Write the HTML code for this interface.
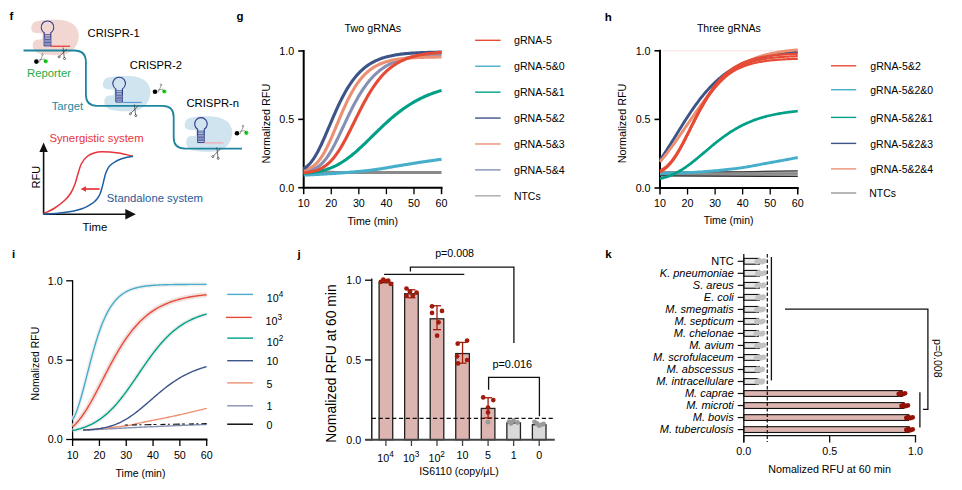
<!DOCTYPE html>
<html><head><meta charset="utf-8"><style>
html,body{margin:0;padding:0;background:#fff;}
svg{display:block;}
text{font-family:'Liberation Sans', Arial, sans-serif;}
</style></head><body>
<svg width="962" height="490" viewBox="0 0 962 490">
<rect width="962" height="490" fill="#fff"/>
<text x="9.60" y="19.60" font-size="11.5" fill="#000" font-weight="bold">f</text>
<path transform="translate(47.50,21.00)" d="M-6.4,12.3 C-9,12.1 -14,12.6 -15.6,10 C-17,7.5 -16,2.5 -12.5,0.8 C-8,-1 3,-1.5 11,-1.2 C24,-0.8 31.3,6 31.3,14.5 C31.3,25 24,33.8 11,34.1 C2,34.3 -7,33.5 -10.5,31.5 C-14.5,29.5 -15.2,25.5 -14.6,22.5 C-14,19.5 -12,18.5 -9.5,18.4 L-6.4,18.4 C-4.4,18.4 -4.4,12.3 -6.4,12.3 Z" fill="#f2d6d1"/>
<path transform="translate(119.15,77.20)" d="M-6.4,12.3 C-9,12.1 -14,12.6 -15.6,10 C-17,7.5 -16,2.5 -12.5,0.8 C-8,-1 3,-1.5 11,-1.2 C24,-0.8 31.3,6 31.3,14.5 C31.3,25 24,33.8 11,34.1 C2,34.3 -7,33.5 -10.5,31.5 C-14.5,29.5 -15.2,25.5 -14.6,22.5 C-14,19.5 -12,18.5 -9.5,18.4 L-6.4,18.4 C-4.4,18.4 -4.4,12.3 -6.4,12.3 Z" fill="#cfe4ee"/>
<path transform="translate(200.95,117.65)" d="M-6.4,12.3 C-9,12.1 -14,12.6 -15.6,10 C-17,7.5 -16,2.5 -12.5,0.8 C-8,-1 3,-1.5 11,-1.2 C24,-0.8 31.3,6 31.3,14.5 C31.3,25 24,33.8 11,34.1 C2,34.3 -7,33.5 -10.5,31.5 C-14.5,29.5 -15.2,25.5 -14.6,22.5 C-14,19.5 -12,18.5 -9.5,18.4 L-6.4,18.4 C-4.4,18.4 -4.4,12.3 -6.4,12.3 Z" fill="#cfe4ee"/>
<path d="M23.5,50.5 L74,50.5 Q85.9,50.5 85.9,62 L85.9,94.5 Q85.9,105.9 97,105.9 L162.5,105.9 Q173.7,105.9 173.7,117 L173.7,137.5 Q173.7,148.6 185,148.6 L242,148.6" fill="none" stroke="#1f859e" stroke-width="1.8" stroke-linejoin="round" stroke-linecap="butt"/>
<g transform="translate(47.50,21.00)">
<path d="M-3.3,24.9 L-3.3,11.67 A6.3,6.3 0 1 1 3.3,11.67 L3.3,24.9" fill="none" stroke="#2e3c8c" stroke-width="1.1"/>
<rect x="-3.3" y="17.6" width="6.6" height="6.2" fill="#b9bcd6" opacity="0.8"/>
<line x1="-3.30" y1="13.50" x2="3.30" y2="13.50" stroke="#2e3c8c" stroke-width="0.75" opacity="0.95"/>
<line x1="-3.30" y1="15.20" x2="3.30" y2="15.20" stroke="#2e3c8c" stroke-width="0.75" opacity="0.95"/>
<line x1="-3.30" y1="16.90" x2="3.30" y2="16.90" stroke="#2e3c8c" stroke-width="0.75" opacity="0.95"/>
<line x1="-3.30" y1="18.50" x2="3.30" y2="18.50" stroke="#2e3c8c" stroke-width="0.75" opacity="0.95"/>
<line x1="-3.30" y1="20.00" x2="3.30" y2="20.00" stroke="#2e3c8c" stroke-width="0.75" opacity="0.95"/>
<line x1="-3.30" y1="21.50" x2="3.30" y2="21.50" stroke="#2e3c8c" stroke-width="0.75" opacity="0.95"/>
<line x1="-3.30" y1="23.00" x2="3.30" y2="23.00" stroke="#2e3c8c" stroke-width="0.75" opacity="0.95"/>
<line x1="-3.30" y1="24.90" x2="3.30" y2="24.90" stroke="#2e3c8c" stroke-width="1.0"/>
<line x1="3.30" y1="25.25" x2="22.50" y2="25.25" stroke="#e8362b" stroke-width="1.2"/>
</g>
<g transform="translate(119.15,77.20)">
<path d="M-3.3,24.9 L-3.3,11.67 A6.3,6.3 0 1 1 3.3,11.67 L3.3,24.9" fill="none" stroke="#2e3c8c" stroke-width="1.1"/>
<rect x="-3.3" y="17.6" width="6.6" height="6.2" fill="#b9bcd6" opacity="0.8"/>
<line x1="-3.30" y1="13.50" x2="3.30" y2="13.50" stroke="#2e3c8c" stroke-width="0.75" opacity="0.95"/>
<line x1="-3.30" y1="15.20" x2="3.30" y2="15.20" stroke="#2e3c8c" stroke-width="0.75" opacity="0.95"/>
<line x1="-3.30" y1="16.90" x2="3.30" y2="16.90" stroke="#2e3c8c" stroke-width="0.75" opacity="0.95"/>
<line x1="-3.30" y1="18.50" x2="3.30" y2="18.50" stroke="#2e3c8c" stroke-width="0.75" opacity="0.95"/>
<line x1="-3.30" y1="20.00" x2="3.30" y2="20.00" stroke="#2e3c8c" stroke-width="0.75" opacity="0.95"/>
<line x1="-3.30" y1="21.50" x2="3.30" y2="21.50" stroke="#2e3c8c" stroke-width="0.75" opacity="0.95"/>
<line x1="-3.30" y1="23.00" x2="3.30" y2="23.00" stroke="#2e3c8c" stroke-width="0.75" opacity="0.95"/>
<line x1="-3.30" y1="24.90" x2="3.30" y2="24.90" stroke="#2e3c8c" stroke-width="1.0"/>
<line x1="3.30" y1="25.25" x2="22.50" y2="25.25" stroke="#5b9bd5" stroke-width="1.2"/>
</g>
<g transform="translate(200.95,117.65)">
<path d="M-3.3,24.9 L-3.3,11.67 A6.3,6.3 0 1 1 3.3,11.67 L3.3,24.9" fill="none" stroke="#2e3c8c" stroke-width="1.1"/>
<rect x="-3.3" y="17.6" width="6.6" height="6.2" fill="#b9bcd6" opacity="0.8"/>
<line x1="-3.30" y1="13.50" x2="3.30" y2="13.50" stroke="#2e3c8c" stroke-width="0.75" opacity="0.95"/>
<line x1="-3.30" y1="15.20" x2="3.30" y2="15.20" stroke="#2e3c8c" stroke-width="0.75" opacity="0.95"/>
<line x1="-3.30" y1="16.90" x2="3.30" y2="16.90" stroke="#2e3c8c" stroke-width="0.75" opacity="0.95"/>
<line x1="-3.30" y1="18.50" x2="3.30" y2="18.50" stroke="#2e3c8c" stroke-width="0.75" opacity="0.95"/>
<line x1="-3.30" y1="20.00" x2="3.30" y2="20.00" stroke="#2e3c8c" stroke-width="0.75" opacity="0.95"/>
<line x1="-3.30" y1="21.50" x2="3.30" y2="21.50" stroke="#2e3c8c" stroke-width="0.75" opacity="0.95"/>
<line x1="-3.30" y1="23.00" x2="3.30" y2="23.00" stroke="#2e3c8c" stroke-width="0.75" opacity="0.95"/>
<line x1="-3.30" y1="24.90" x2="3.30" y2="24.90" stroke="#2e3c8c" stroke-width="1.0"/>
<line x1="3.30" y1="25.25" x2="22.50" y2="25.25" stroke="#f2a7b5" stroke-width="1.2"/>
</g>
<g transform="translate(63.90,52.00) scale(1.0)" fill="none" stroke="#333" stroke-width="0.7"><path d="M-0.8,-4.5 L0.4,6"/><path d="M3,-3 L-4.3,4.2"/><circle cx="0.6" cy="6.6" r="1.0"/><circle cx="-4.8" cy="4.8" r="1.0"/></g>
<g transform="translate(135.20,109.00) scale(1.0)" fill="none" stroke="#333" stroke-width="0.7"><path d="M-0.8,-4.5 L0.4,6"/><path d="M3,-3 L-4.3,4.2"/><circle cx="0.6" cy="6.6" r="1.0"/><circle cx="-4.8" cy="4.8" r="1.0"/></g>
<g transform="translate(217.60,151.80) scale(1.0)" fill="none" stroke="#333" stroke-width="0.7"><path d="M-0.8,-4.5 L0.4,6"/><path d="M3,-3 L-4.3,4.2"/><circle cx="0.6" cy="6.6" r="1.0"/><circle cx="-4.8" cy="4.8" r="1.0"/></g>
<circle cx="36.40" cy="61.60" r="2.3" fill="#000"/>
<circle cx="45.80" cy="61.30" r="2.1" fill="#18e01a"/>
<g transform="translate(41.40,59.10)" fill="none" stroke="#444" stroke-width="0.5"><path d="M-2.2,3.5 L1.3,-3.8"/><path d="M-2.4,0.8 L3.2,-0.2"/><circle cx="1.0" cy="-4.6" r="0.8"/><circle cx="3.6" cy="1.8" r="0.8"/></g>
<circle cx="155.00" cy="91.80" r="2.3" fill="#000"/>
<circle cx="164.40" cy="91.50" r="2.1" fill="#18e01a"/>
<g transform="translate(160.00,89.30)" fill="none" stroke="#444" stroke-width="0.5"><path d="M-2.2,3.5 L1.3,-3.8"/><path d="M-2.4,0.8 L3.2,-0.2"/><circle cx="1.0" cy="-4.6" r="0.8"/><circle cx="3.6" cy="1.8" r="0.8"/></g>
<circle cx="237.00" cy="133.20" r="2.3" fill="#000"/>
<circle cx="246.40" cy="132.90" r="2.1" fill="#18e01a"/>
<g transform="translate(242.00,130.70)" fill="none" stroke="#444" stroke-width="0.5"><path d="M-2.2,3.5 L1.3,-3.8"/><path d="M-2.4,0.8 L3.2,-0.2"/><circle cx="1.0" cy="-4.6" r="0.8"/><circle cx="3.6" cy="1.8" r="0.8"/></g>
<text x="87.60" y="37.40" font-size="11.2">CRISPR-1</text>
<text x="129.80" y="69.10" font-size="11.2">CRISPR-2</text>
<text x="186.40" y="106.70" font-size="11.3">CRISPR-n</text>
<text x="27.00" y="77.00" font-size="11.3" fill="#1faa44">Reporter</text>
<text x="51.70" y="109.60" font-size="11.3" fill="#23879f">Target</text>
<path d="M43.6,214.3 L43.6,151" stroke="#111" stroke-width="1.6" fill="none"/>
<path d="M43.6,142.5 L39.4,152 L47.8,152 Z" fill="#111"/>
<path d="M43.6,214.3 L126,214.3" stroke="#111" stroke-width="1.6" fill="none"/>
<path d="M135.8,214.3 L125.3,209 L125.3,219.6 Z" fill="#111"/>
<path d="M43.60,213.60 C45.33,212.75 50.52,210.68 54.00,208.50 C57.48,206.32 61.75,203.00 64.50,200.50 C67.25,198.00 68.78,196.17 70.50,193.50 C72.22,190.83 73.52,187.92 74.80,184.50 C76.08,181.08 77.08,176.50 78.20,173.00 C79.32,169.50 79.97,166.28 81.50,163.50 C83.03,160.72 85.32,158.05 87.40,156.30 C89.48,154.55 91.55,153.75 94.00,153.00 C96.45,152.25 98.03,151.78 102.10,151.80 C106.17,151.82 113.23,152.35 118.40,153.10 C123.57,153.85 130.65,155.77 133.10,156.30" fill="none" stroke="#e8333a" stroke-width="1.5"/>
<path d="M43.60,214.00 C46.00,213.87 53.15,213.67 58.00,213.20 C62.85,212.73 68.70,211.93 72.70,211.20 C76.70,210.47 79.28,209.77 82.00,208.80 C84.72,207.83 87.08,206.45 89.00,205.40 C90.92,204.35 92.13,203.60 93.50,202.50 C94.87,201.40 96.12,200.22 97.20,198.80 C98.28,197.38 99.18,195.90 100.00,194.00 C100.82,192.10 101.20,190.68 102.10,187.40 C103.00,184.12 104.50,177.33 105.40,174.30 C106.30,171.27 106.68,170.70 107.50,169.20 C108.32,167.70 109.05,166.53 110.30,165.30 C111.55,164.07 113.10,162.88 115.00,161.80 C116.90,160.72 119.70,159.57 121.70,158.80 C123.70,158.03 125.10,157.62 127.00,157.20 C128.90,156.78 132.08,156.45 133.10,156.30" fill="none" stroke="#1d5fa1" stroke-width="1.5"/>
<line x1="84.00" y1="189.00" x2="99.60" y2="189.00" stroke="#e8333a" stroke-width="1.7"/>
<path d="M80.5,189 L86,186.3 L86,191.7 Z" fill="#e8333a"/>
<text x="49.40" y="142.00" font-size="11.3" fill="#e8333a">Synergistic system</text>
<text x="106.80" y="201.60" font-size="11.3" fill="#1f5a99">Standalone system</text>
<text x="82.60" y="231.30" font-size="11.3">Time</text>
<text x="0.00" y="0.00" font-size="11" text-anchor="middle" transform="translate(40.0,177.2) rotate(-90)">RFU</text>
<text x="236.50" y="20.30" font-size="11.5" fill="#000" font-weight="bold">g</text>
<text x="344.50" y="32.10" font-size="10.7" textLength="56.7" lengthAdjust="spacingAndGlyphs">Two gRNAs</text>
<line x1="303.70" y1="50.00" x2="303.70" y2="188.70" stroke="#000" stroke-width="2"/>
<line x1="298.20" y1="187.70" x2="303.70" y2="187.70" stroke="#000" stroke-width="1.6"/>
<text x="294.20" y="191.50" font-size="10.7" text-anchor="end">0.0</text>
<line x1="298.20" y1="119.35" x2="303.70" y2="119.35" stroke="#000" stroke-width="1.6"/>
<text x="294.20" y="123.15" font-size="10.7" text-anchor="end">0.5</text>
<line x1="298.20" y1="51.00" x2="303.70" y2="51.00" stroke="#000" stroke-width="1.6"/>
<text x="294.20" y="54.80" font-size="10.7" text-anchor="end">1.0</text>
<line x1="302.70" y1="187.70" x2="442.55" y2="187.70" stroke="#000" stroke-width="2"/>
<line x1="303.70" y1="187.70" x2="303.70" y2="194.20" stroke="#000" stroke-width="1.5" stroke-linecap="butt"/>
<text x="303.70" y="206.90" font-size="10.7" text-anchor="middle">10</text>
<line x1="331.27" y1="187.70" x2="331.27" y2="194.20" stroke="#000" stroke-width="1.3" stroke-linecap="butt"/>
<text x="331.27" y="206.90" font-size="10.7" text-anchor="middle">20</text>
<line x1="358.84" y1="187.70" x2="358.84" y2="194.20" stroke="#000" stroke-width="1.3" stroke-linecap="butt"/>
<text x="358.84" y="206.90" font-size="10.7" text-anchor="middle">30</text>
<line x1="386.41" y1="187.70" x2="386.41" y2="194.20" stroke="#000" stroke-width="1.3" stroke-linecap="butt"/>
<text x="386.41" y="206.90" font-size="10.7" text-anchor="middle">40</text>
<line x1="413.98" y1="187.70" x2="413.98" y2="194.20" stroke="#000" stroke-width="1.3" stroke-linecap="butt"/>
<text x="413.98" y="206.90" font-size="10.7" text-anchor="middle">50</text>
<line x1="441.55" y1="187.70" x2="441.55" y2="194.20" stroke="#000" stroke-width="1.5" stroke-linecap="butt"/>
<text x="441.55" y="206.90" font-size="10.7" text-anchor="middle">60</text>
<text x="0.00" y="0.00" font-size="11.8" text-anchor="middle" textLength="79.6" lengthAdjust="spacingAndGlyphs" transform="translate(270.3,123.6) rotate(-90)">Normalized RFU</text>
<text x="372.70" y="225.20" font-size="10.7" text-anchor="middle" textLength="50.5" lengthAdjust="spacingAndGlyphs">Time (min)</text>
<path d="M303.70,172.25 L304.86,172.26 L306.02,172.27 L307.18,172.27 L308.33,172.28 L309.49,172.29 L310.65,172.29 L311.81,172.30 L312.97,172.31 L314.13,172.31 L315.28,172.32 L316.44,172.33 L317.60,172.33 L318.76,172.34 L319.92,172.35 L321.08,172.35 L322.23,172.36 L323.39,172.37 L324.55,172.37 L325.71,172.38 L326.87,172.39 L328.03,172.39 L329.18,172.40 L330.34,172.40 L331.50,172.41 L332.66,172.42 L333.82,172.42 L334.98,172.43 L336.14,172.43 L337.29,172.44 L338.45,172.44 L339.61,172.45 L340.77,172.45 L341.93,172.46 L343.09,172.46 L344.24,172.47 L345.40,172.47 L346.56,172.48 L347.72,172.48 L348.88,172.48 L350.04,172.49 L351.19,172.49 L352.35,172.49 L353.51,172.50 L354.67,172.50 L355.83,172.50 L356.99,172.51 L358.14,172.51 L359.30,172.51 L360.46,172.51 L361.62,172.52 L362.78,172.52 L363.94,172.52 L365.10,172.52 L366.25,172.52 L367.41,172.52 L368.57,172.52 L369.73,172.53 L370.89,172.53 L372.05,172.53 L373.20,172.53 L374.36,172.53 L375.52,172.53 L376.68,172.53 L377.84,172.53 L379.00,172.53 L380.15,172.53 L381.31,172.53 L382.47,172.53 L383.63,172.53 L384.79,172.53 L385.95,172.53 L387.11,172.53 L388.26,172.53 L389.42,172.53 L390.58,172.53 L391.74,172.53 L392.90,172.53 L394.06,172.53 L395.21,172.53 L396.37,172.53 L397.53,172.53 L398.69,172.53 L399.85,172.53 L401.01,172.53 L402.16,172.53 L403.32,172.53 L404.48,172.53 L405.64,172.53 L406.80,172.53 L407.96,172.53 L409.11,172.53 L410.27,172.53 L411.43,172.53 L412.59,172.53 L413.75,172.53 L414.91,172.53 L416.07,172.53 L417.22,172.53 L418.38,172.53 L419.54,172.53 L420.70,172.53 L421.86,172.53 L423.02,172.53 L424.17,172.53 L425.33,172.53 L426.49,172.53 L427.65,172.53 L428.81,172.53 L429.97,172.53 L431.12,172.53 L432.28,172.53 L433.44,172.53 L434.60,172.53 L435.76,172.53 L436.92,172.53 L438.07,172.53 L439.23,172.53 L440.39,172.53 L441.55,172.53" fill="none" stroke="#8a8a8a" stroke-width="3.1" stroke-linejoin="round" stroke-linecap="butt"/>
<path d="M303.70,175.12 L304.86,175.07 L306.02,175.02 L307.18,174.96 L308.33,174.91 L309.49,174.85 L310.65,174.80 L311.81,174.74 L312.97,174.68 L314.13,174.62 L315.28,174.56 L316.44,174.50 L317.60,174.43 L318.76,174.37 L319.92,174.31 L321.08,174.24 L322.23,174.17 L323.39,174.11 L324.55,174.04 L325.71,173.97 L326.87,173.90 L328.03,173.82 L329.18,173.75 L330.34,173.68 L331.50,173.61 L332.66,173.53 L333.82,173.46 L334.98,173.38 L336.14,173.30 L337.29,173.23 L338.45,173.15 L339.61,173.07 L340.77,172.99 L341.93,172.90 L343.09,172.82 L344.24,172.73 L345.40,172.64 L346.56,172.54 L347.72,172.45 L348.88,172.35 L350.04,172.26 L351.19,172.16 L352.35,172.06 L353.51,171.96 L354.67,171.86 L355.83,171.75 L356.99,171.64 L358.14,171.53 L359.30,171.42 L360.46,171.31 L361.62,171.20 L362.78,171.08 L363.94,170.96 L365.10,170.84 L366.25,170.71 L367.41,170.58 L368.57,170.45 L369.73,170.32 L370.89,170.18 L372.05,170.04 L373.20,169.89 L374.36,169.73 L375.52,169.57 L376.68,169.40 L377.84,169.23 L379.00,169.05 L380.15,168.87 L381.31,168.68 L382.47,168.49 L383.63,168.30 L384.79,168.11 L385.95,167.91 L387.11,167.72 L388.26,167.52 L389.42,167.32 L390.58,167.12 L391.74,166.92 L392.90,166.72 L394.06,166.52 L395.21,166.33 L396.37,166.14 L397.53,165.94 L398.69,165.76 L399.85,165.57 L401.01,165.38 L402.16,165.20 L403.32,165.01 L404.48,164.82 L405.64,164.63 L406.80,164.44 L407.96,164.25 L409.11,164.06 L410.27,163.87 L411.43,163.68 L412.59,163.49 L413.75,163.31 L414.91,163.12 L416.07,162.94 L417.22,162.76 L418.38,162.58 L419.54,162.40 L420.70,162.23 L421.86,162.06 L423.02,161.88 L424.17,161.71 L425.33,161.54 L426.49,161.37 L427.65,161.20 L428.81,161.03 L429.97,160.87 L431.12,160.70 L432.28,160.54 L433.44,160.38 L434.60,160.21 L435.76,160.05 L436.92,159.89 L438.07,159.73 L439.23,159.58 L440.39,159.42 L441.55,159.27" fill="none" stroke="#46AECB" stroke-width="3.1" stroke-linejoin="round" stroke-linecap="butt"/>
<path d="M303.70,173.19 L304.86,173.12 L306.02,173.04 L307.18,172.95 L308.33,172.85 L309.49,172.74 L310.65,172.62 L311.81,172.48 L312.97,172.34 L314.13,172.18 L315.28,172.01 L316.44,171.82 L317.60,171.62 L318.76,171.40 L319.92,171.16 L321.08,170.91 L322.23,170.63 L323.39,170.34 L324.55,170.02 L325.71,169.69 L326.87,169.33 L328.03,168.94 L329.18,168.53 L330.34,168.10 L331.50,167.64 L332.66,167.15 L333.82,166.64 L334.98,166.10 L336.14,165.54 L337.29,164.94 L338.45,164.32 L339.61,163.67 L340.77,162.99 L341.93,162.29 L343.09,161.56 L344.24,160.80 L345.40,160.01 L346.56,159.19 L347.72,158.35 L348.88,157.49 L350.04,156.60 L351.19,155.69 L352.35,154.75 L353.51,153.79 L354.67,152.81 L355.83,151.81 L356.99,150.79 L358.14,149.76 L359.30,148.71 L360.46,147.64 L361.62,146.56 L362.78,145.47 L363.94,144.37 L365.10,143.26 L366.25,142.14 L367.41,141.01 L368.57,139.88 L369.73,138.74 L370.89,137.60 L372.05,136.46 L373.20,135.32 L374.36,134.18 L375.52,133.04 L376.68,131.91 L377.84,130.78 L379.00,129.66 L380.15,128.54 L381.31,127.43 L382.47,126.33 L383.63,125.24 L384.79,124.16 L385.95,123.10 L387.11,122.04 L388.26,121.00 L389.42,119.97 L390.58,118.95 L391.74,117.95 L392.90,116.97 L394.06,116.00 L395.21,115.05 L396.37,114.11 L397.53,113.19 L398.69,112.29 L399.85,111.40 L401.01,110.53 L402.16,109.68 L403.32,108.84 L404.48,108.03 L405.64,107.23 L406.80,106.45 L407.96,105.69 L409.11,104.94 L410.27,104.21 L411.43,103.50 L412.59,102.81 L413.75,102.13 L414.91,101.47 L416.07,100.83 L417.22,100.20 L418.38,99.59 L419.54,99.00 L420.70,98.42 L421.86,97.86 L423.02,97.31 L424.17,96.78 L425.33,96.27 L426.49,95.77 L427.65,95.28 L428.81,94.81 L429.97,94.35 L431.12,93.90 L432.28,93.47 L433.44,93.05 L434.60,92.64 L435.76,92.24 L436.92,91.86 L438.07,91.49 L439.23,91.13 L440.39,90.78 L441.55,90.44" fill="none" stroke="#00A087" stroke-width="3.1" stroke-linejoin="round" stroke-linecap="butt"/>
<path d="M303.70,170.73 L304.86,170.65 L306.02,170.55 L307.18,170.42 L308.33,170.26 L309.49,170.06 L310.65,169.81 L311.81,169.51 L312.97,169.14 L314.13,168.71 L315.28,168.20 L316.44,167.60 L317.60,166.92 L318.76,166.13 L319.92,165.25 L321.08,164.25 L322.23,163.15 L323.39,161.93 L324.55,160.59 L325.71,159.15 L326.87,157.58 L328.03,155.91 L329.18,154.13 L330.34,152.25 L331.50,150.28 L332.66,148.21 L333.82,146.07 L334.98,143.85 L336.14,141.56 L337.29,139.23 L338.45,136.84 L339.61,134.42 L340.77,131.97 L341.93,129.51 L343.09,127.03 L344.24,124.55 L345.40,122.08 L346.56,119.62 L347.72,117.19 L348.88,114.78 L350.04,112.41 L351.19,110.07 L352.35,107.78 L353.51,105.54 L354.67,103.34 L355.83,101.21 L356.99,99.13 L358.14,97.10 L359.30,95.14 L360.46,93.24 L361.62,91.41 L362.78,89.63 L363.94,87.92 L365.10,86.27 L366.25,84.69 L367.41,83.17 L368.57,81.70 L369.73,80.30 L370.89,78.96 L372.05,77.67 L373.20,76.44 L374.36,75.27 L375.52,74.15 L376.68,73.08 L377.84,72.06 L379.00,71.08 L380.15,70.16 L381.31,69.28 L382.47,68.44 L383.63,67.64 L384.79,66.88 L385.95,66.16 L387.11,65.48 L388.26,64.83 L389.42,64.21 L390.58,63.63 L391.74,63.08 L392.90,62.55 L394.06,62.05 L395.21,61.58 L396.37,61.14 L397.53,60.71 L398.69,60.31 L399.85,59.94 L401.01,59.58 L402.16,59.24 L403.32,58.92 L404.48,58.61 L405.64,58.33 L406.80,58.06 L407.96,57.80 L409.11,57.56 L410.27,57.33 L411.43,57.11 L412.59,56.91 L413.75,56.72 L414.91,56.54 L416.07,56.36 L417.22,56.20 L418.38,56.05 L419.54,55.90 L420.70,55.77 L421.86,55.64 L423.02,55.52 L424.17,55.40 L425.33,55.29 L426.49,55.19 L427.65,55.09 L428.81,55.00 L429.97,54.91 L431.12,54.83 L432.28,54.76 L433.44,54.68 L434.60,54.62 L435.76,54.55 L436.92,54.49 L438.07,54.43 L439.23,54.38 L440.39,54.33 L441.55,54.28" fill="none" stroke="#8491B4" stroke-width="3.1" stroke-linejoin="round" stroke-linecap="butt"/>
<path d="M303.70,169.89 L304.86,169.66 L306.02,169.38 L307.18,169.05 L308.33,168.65 L309.49,168.18 L310.65,167.63 L311.81,166.98 L312.97,166.24 L314.13,165.39 L315.28,164.42 L316.44,163.34 L317.60,162.12 L318.76,160.77 L319.92,159.29 L321.08,157.67 L322.23,155.92 L323.39,154.03 L324.55,152.00 L325.71,149.86 L326.87,147.60 L328.03,145.23 L329.18,142.76 L330.34,140.21 L331.50,137.59 L332.66,134.90 L333.82,132.17 L334.98,129.41 L336.14,126.62 L337.29,123.83 L338.45,121.04 L339.61,118.27 L340.77,115.53 L341.93,112.82 L343.09,110.17 L344.24,107.57 L345.40,105.03 L346.56,102.56 L347.72,100.16 L348.88,97.85 L350.04,95.61 L351.19,93.46 L352.35,91.39 L353.51,89.41 L354.67,87.52 L355.83,85.71 L356.99,83.99 L358.14,82.35 L359.30,80.79 L360.46,79.31 L361.62,77.92 L362.78,76.59 L363.94,75.34 L365.10,74.16 L366.25,73.05 L367.41,72.01 L368.57,71.02 L369.73,70.09 L370.89,69.22 L372.05,68.41 L373.20,67.64 L374.36,66.92 L375.52,66.25 L376.68,65.62 L377.84,65.03 L379.00,64.47 L380.15,63.96 L381.31,63.48 L382.47,63.03 L383.63,62.60 L384.79,62.21 L385.95,61.84 L387.11,61.50 L388.26,61.18 L389.42,60.88 L390.58,60.61 L391.74,60.35 L392.90,60.11 L394.06,59.88 L395.21,59.67 L396.37,59.48 L397.53,59.30 L398.69,59.13 L399.85,58.97 L401.01,58.82 L402.16,58.69 L403.32,58.56 L404.48,58.44 L405.64,58.33 L406.80,58.23 L407.96,58.13 L409.11,58.04 L410.27,57.96 L411.43,57.89 L412.59,57.81 L413.75,57.75 L414.91,57.69 L416.07,57.63 L417.22,57.57 L418.38,57.53 L419.54,57.48 L420.70,57.44 L421.86,57.40 L423.02,57.36 L424.17,57.32 L425.33,57.29 L426.49,57.26 L427.65,57.23 L428.81,57.21 L429.97,57.18 L431.12,57.16 L432.28,57.14 L433.44,57.12 L434.60,57.10 L435.76,57.09 L436.92,57.07 L438.07,57.06 L439.23,57.04 L440.39,57.03 L441.55,57.02" fill="none" stroke="#EC9073" stroke-width="3.1" stroke-linejoin="round" stroke-linecap="butt"/>
<path d="M303.70,168.63 L304.86,167.93 L306.02,167.13 L307.18,166.20 L308.33,165.15 L309.49,163.97 L310.65,162.65 L311.81,161.20 L312.97,159.61 L314.13,157.88 L315.28,156.02 L316.44,154.04 L317.60,151.94 L318.76,149.72 L319.92,147.41 L321.08,145.00 L322.23,142.50 L323.39,139.94 L324.55,137.32 L325.71,134.66 L326.87,131.96 L328.03,129.23 L329.18,126.50 L330.34,123.77 L331.50,121.04 L332.66,118.34 L333.82,115.66 L334.98,113.02 L336.14,110.42 L337.29,107.88 L338.45,105.38 L339.61,102.95 L340.77,100.59 L341.93,98.29 L343.09,96.06 L344.24,93.91 L345.40,91.83 L346.56,89.82 L347.72,87.89 L348.88,86.04 L350.04,84.26 L351.19,82.55 L352.35,80.92 L353.51,79.36 L354.67,77.88 L355.83,76.46 L356.99,75.10 L358.14,73.82 L359.30,72.59 L360.46,71.43 L361.62,70.32 L362.78,69.28 L363.94,68.28 L365.10,67.34 L366.25,66.45 L367.41,65.61 L368.57,64.81 L369.73,64.05 L370.89,63.34 L372.05,62.67 L373.20,62.03 L374.36,61.43 L375.52,60.86 L376.68,60.33 L377.84,59.83 L379.00,59.35 L380.15,58.90 L381.31,58.48 L382.47,58.09 L383.63,57.71 L384.79,57.36 L385.95,57.03 L387.11,56.72 L388.26,56.42 L389.42,56.15 L390.58,55.89 L391.74,55.65 L392.90,55.42 L394.06,55.20 L395.21,55.00 L396.37,54.81 L397.53,54.63 L398.69,54.46 L399.85,54.30 L401.01,54.15 L402.16,54.01 L403.32,53.88 L404.48,53.76 L405.64,53.64 L406.80,53.54 L407.96,53.43 L409.11,53.34 L410.27,53.25 L411.43,53.16 L412.59,53.09 L413.75,53.01 L414.91,52.94 L416.07,52.88 L417.22,52.81 L418.38,52.76 L419.54,52.70 L420.70,52.65 L421.86,52.60 L423.02,52.56 L424.17,52.52 L425.33,52.48 L426.49,52.44 L427.65,52.40 L428.81,52.37 L429.97,52.34 L431.12,52.31 L432.28,52.29 L433.44,52.26 L434.60,52.24 L435.76,52.21 L436.92,52.19 L438.07,52.17 L439.23,52.15 L440.39,52.14 L441.55,52.12" fill="none" stroke="#3C5488" stroke-width="3.1" stroke-linejoin="round" stroke-linecap="butt"/>
<path d="M303.70,172.71 L304.86,172.61 L306.02,172.49 L307.18,172.36 L308.33,172.21 L309.49,172.03 L310.65,171.84 L311.81,171.61 L312.97,171.36 L314.13,171.07 L315.28,170.75 L316.44,170.38 L317.60,169.97 L318.76,169.52 L319.92,169.01 L321.08,168.45 L322.23,167.83 L323.39,167.15 L324.55,166.40 L325.71,165.58 L326.87,164.68 L328.03,163.71 L329.18,162.67 L330.34,161.53 L331.50,160.32 L332.66,159.02 L333.82,157.64 L334.98,156.17 L336.14,154.62 L337.29,152.98 L338.45,151.26 L339.61,149.47 L340.77,147.59 L341.93,145.65 L343.09,143.64 L344.24,141.56 L345.40,139.43 L346.56,137.25 L347.72,135.03 L348.88,132.76 L350.04,130.47 L351.19,128.15 L352.35,125.81 L353.51,123.46 L354.67,121.11 L355.83,118.75 L356.99,116.41 L358.14,114.08 L359.30,111.78 L360.46,109.50 L361.62,107.24 L362.78,105.03 L363.94,102.85 L365.10,100.72 L366.25,98.64 L367.41,96.60 L368.57,94.62 L369.73,92.69 L370.89,90.81 L372.05,89.00 L373.20,87.24 L374.36,85.54 L375.52,83.90 L376.68,82.32 L377.84,80.80 L379.00,79.34 L380.15,77.93 L381.31,76.58 L382.47,75.29 L383.63,74.06 L384.79,72.87 L385.95,71.74 L387.11,70.66 L388.26,69.63 L389.42,68.65 L390.58,67.72 L391.74,66.83 L392.90,65.98 L394.06,65.18 L395.21,64.41 L396.37,63.68 L397.53,62.99 L398.69,62.34 L399.85,61.72 L401.01,61.13 L402.16,60.57 L403.32,60.05 L404.48,59.55 L405.64,59.07 L406.80,58.62 L407.96,58.20 L409.11,57.80 L410.27,57.42 L411.43,57.06 L412.59,56.73 L413.75,56.41 L414.91,56.11 L416.07,55.82 L417.22,55.55 L418.38,55.30 L419.54,55.06 L420.70,54.83 L421.86,54.62 L423.02,54.42 L424.17,54.23 L425.33,54.05 L426.49,53.88 L427.65,53.72 L428.81,53.57 L429.97,53.43 L431.12,53.30 L432.28,53.17 L433.44,53.05 L434.60,52.94 L435.76,52.84 L436.92,52.74 L438.07,52.64 L439.23,52.56 L440.39,52.47 L441.55,52.39" fill="none" stroke="#E64B35" stroke-width="3.1" stroke-linejoin="round" stroke-linecap="butt"/>
<line x1="475.10" y1="40.30" x2="500.60" y2="40.30" stroke="#E64B35" stroke-width="1.4"/>
<text x="514.00" y="44.30" font-size="10.7" textLength="37.9" lengthAdjust="spacingAndGlyphs">gRNA-5</text>
<line x1="475.10" y1="66.22" x2="500.60" y2="66.22" stroke="#46AECB" stroke-width="1.4"/>
<text x="514.00" y="70.22" font-size="10.7" textLength="50.6" lengthAdjust="spacingAndGlyphs">gRNA-5&amp;0</text>
<line x1="475.10" y1="92.14" x2="500.60" y2="92.14" stroke="#00A087" stroke-width="1.4"/>
<text x="514.00" y="96.14" font-size="10.7" textLength="50.6" lengthAdjust="spacingAndGlyphs">gRNA-5&amp;1</text>
<line x1="475.10" y1="118.06" x2="500.60" y2="118.06" stroke="#3C5488" stroke-width="1.4"/>
<text x="514.00" y="122.06" font-size="10.7" textLength="50.6" lengthAdjust="spacingAndGlyphs">gRNA-5&amp;2</text>
<line x1="475.10" y1="143.98" x2="500.60" y2="143.98" stroke="#EC9073" stroke-width="1.4"/>
<text x="514.00" y="147.98" font-size="10.7" textLength="50.6" lengthAdjust="spacingAndGlyphs">gRNA-5&amp;3</text>
<line x1="475.10" y1="169.90" x2="500.60" y2="169.90" stroke="#8491B4" stroke-width="1.4"/>
<text x="514.00" y="173.90" font-size="10.7" textLength="50.6" lengthAdjust="spacingAndGlyphs">gRNA-5&amp;4</text>
<line x1="475.10" y1="195.82" x2="500.60" y2="195.82" stroke="#aaaaaa" stroke-width="1.4"/>
<text x="514.00" y="199.82" font-size="10.7" textLength="26.6" lengthAdjust="spacingAndGlyphs">NTCs</text>
<text x="604.70" y="20.50" font-size="11.5" fill="#000" font-weight="bold">h</text>
<text x="696.90" y="32.10" font-size="10.7" textLength="64.0" lengthAdjust="spacingAndGlyphs">Three gRNAs</text>
<line x1="663.00" y1="50.80" x2="797.70" y2="50.80" stroke="#f3cfc8" stroke-width="0.6"/>
<line x1="660.00" y1="49.80" x2="660.00" y2="189.00" stroke="#000" stroke-width="2"/>
<line x1="654.50" y1="188.00" x2="660.00" y2="188.00" stroke="#000" stroke-width="1.6"/>
<text x="650.50" y="191.80" font-size="10.7" text-anchor="end">0.0</text>
<line x1="654.50" y1="119.40" x2="660.00" y2="119.40" stroke="#000" stroke-width="1.6"/>
<text x="650.50" y="123.20" font-size="10.7" text-anchor="end">0.5</text>
<line x1="654.50" y1="50.80" x2="660.00" y2="50.80" stroke="#000" stroke-width="1.6"/>
<text x="650.50" y="54.60" font-size="10.7" text-anchor="end">1.0</text>
<line x1="659.00" y1="188.00" x2="798.75" y2="188.00" stroke="#000" stroke-width="2"/>
<line x1="660.00" y1="188.00" x2="660.00" y2="194.50" stroke="#000" stroke-width="1.5" stroke-linecap="butt"/>
<text x="660.00" y="207.20" font-size="10.7" text-anchor="middle">10</text>
<line x1="687.55" y1="188.00" x2="687.55" y2="194.50" stroke="#000" stroke-width="1.3" stroke-linecap="butt"/>
<text x="687.55" y="207.20" font-size="10.7" text-anchor="middle">20</text>
<line x1="715.10" y1="188.00" x2="715.10" y2="194.50" stroke="#000" stroke-width="1.3" stroke-linecap="butt"/>
<text x="715.10" y="207.20" font-size="10.7" text-anchor="middle">30</text>
<line x1="742.65" y1="188.00" x2="742.65" y2="194.50" stroke="#000" stroke-width="1.3" stroke-linecap="butt"/>
<text x="742.65" y="207.20" font-size="10.7" text-anchor="middle">40</text>
<line x1="770.20" y1="188.00" x2="770.20" y2="194.50" stroke="#000" stroke-width="1.3" stroke-linecap="butt"/>
<text x="770.20" y="207.20" font-size="10.7" text-anchor="middle">50</text>
<line x1="797.75" y1="188.00" x2="797.75" y2="194.50" stroke="#000" stroke-width="1.5" stroke-linecap="butt"/>
<text x="797.75" y="207.20" font-size="10.7" text-anchor="middle">60</text>
<text x="0.00" y="0.00" font-size="11.8" text-anchor="middle" textLength="79.6" lengthAdjust="spacingAndGlyphs" transform="translate(626.3,123.5) rotate(-90)">Normalized RFU</text>
<text x="728.60" y="224.30" font-size="10.7" text-anchor="middle" textLength="49.9" lengthAdjust="spacingAndGlyphs">Time (min)</text>
<path d="M660.00,171.95 L797.75,170.58 L797.75,176.61 L660.00,176.06 Z" fill="#9c9c9c"/>
<path d="M660.00,172.08 L742.65,171.81 L797.75,170.71" fill="none" stroke="#3a3a3a" stroke-width="1.1" stroke-linejoin="round" stroke-linecap="butt"/>
<path d="M660.00,174.28 L797.75,173.73" fill="none" stroke="#777" stroke-width="0.8" stroke-linejoin="round" stroke-linecap="butt"/>
<path d="M660.00,175.93 L797.75,176.48" fill="none" stroke="#2a2a2a" stroke-width="1.2" stroke-linejoin="round" stroke-linecap="butt"/>
<path d="M660.00,173.46 L661.16,173.44 L662.32,173.43 L663.47,173.41 L664.63,173.39 L665.79,173.37 L666.95,173.34 L668.10,173.32 L669.26,173.29 L670.42,173.26 L671.58,173.22 L672.73,173.19 L673.89,173.15 L675.05,173.12 L676.21,173.08 L677.36,173.04 L678.52,172.99 L679.68,172.95 L680.84,172.91 L681.99,172.86 L683.15,172.82 L684.31,172.77 L685.47,172.72 L686.62,172.67 L687.78,172.62 L688.94,172.57 L690.10,172.52 L691.25,172.46 L692.41,172.40 L693.57,172.34 L694.73,172.27 L695.88,172.21 L697.04,172.14 L698.20,172.06 L699.36,171.99 L700.51,171.91 L701.67,171.83 L702.83,171.75 L703.99,171.66 L705.14,171.57 L706.30,171.48 L707.46,171.39 L708.62,171.29 L709.78,171.20 L710.93,171.10 L712.09,171.00 L713.25,170.90 L714.41,170.79 L715.56,170.68 L716.72,170.58 L717.88,170.46 L719.04,170.35 L720.19,170.24 L721.35,170.12 L722.51,170.01 L723.67,169.89 L724.82,169.77 L725.98,169.64 L727.14,169.52 L728.30,169.40 L729.45,169.27 L730.61,169.14 L731.77,169.01 L732.93,168.88 L734.08,168.75 L735.24,168.62 L736.40,168.48 L737.56,168.33 L738.71,168.18 L739.87,168.02 L741.03,167.85 L742.19,167.68 L743.34,167.50 L744.50,167.32 L745.66,167.13 L746.82,166.93 L747.97,166.74 L749.13,166.53 L750.29,166.33 L751.45,166.12 L752.61,165.91 L753.76,165.69 L754.92,165.48 L756.08,165.26 L757.24,165.04 L758.39,164.82 L759.55,164.60 L760.71,164.38 L761.87,164.16 L763.02,163.94 L764.18,163.72 L765.34,163.51 L766.50,163.29 L767.65,163.08 L768.81,162.87 L769.97,162.66 L771.13,162.45 L772.28,162.25 L773.44,162.04 L774.60,161.83 L775.76,161.62 L776.91,161.41 L778.07,161.20 L779.23,160.99 L780.39,160.78 L781.54,160.57 L782.70,160.36 L783.86,160.14 L785.02,159.93 L786.17,159.72 L787.33,159.50 L788.49,159.28 L789.65,159.07 L790.80,158.85 L791.96,158.64 L793.12,158.42 L794.28,158.20 L795.43,157.98 L796.59,157.76 L797.75,157.54" fill="none" stroke="#46AECB" stroke-width="2.9" stroke-linejoin="round" stroke-linecap="butt"/>
<path d="M660.00,178.67 L661.16,178.41 L662.32,178.13 L663.47,177.82 L664.63,177.49 L665.79,177.14 L666.95,176.77 L668.10,176.37 L669.26,175.95 L670.42,175.50 L671.58,175.03 L672.73,174.52 L673.89,174.00 L675.05,173.44 L676.21,172.86 L677.36,172.26 L678.52,171.62 L679.68,170.96 L680.84,170.28 L681.99,169.57 L683.15,168.83 L684.31,168.08 L685.47,167.30 L686.62,166.49 L687.78,165.67 L688.94,164.83 L690.10,163.96 L691.25,163.08 L692.41,162.19 L693.57,161.28 L694.73,160.35 L695.88,159.42 L697.04,158.47 L698.20,157.51 L699.36,156.55 L700.51,155.58 L701.67,154.60 L702.83,153.62 L703.99,152.64 L705.14,151.66 L706.30,150.67 L707.46,149.69 L708.62,148.72 L709.78,147.74 L710.93,146.77 L712.09,145.81 L713.25,144.86 L714.41,143.91 L715.56,142.98 L716.72,142.05 L717.88,141.14 L719.04,140.23 L720.19,139.34 L721.35,138.47 L722.51,137.60 L723.67,136.76 L724.82,135.92 L725.98,135.10 L727.14,134.30 L728.30,133.51 L729.45,132.74 L730.61,131.99 L731.77,131.25 L732.93,130.53 L734.08,129.82 L735.24,129.13 L736.40,128.46 L737.56,127.80 L738.71,127.17 L739.87,126.54 L741.03,125.94 L742.19,125.35 L743.34,124.78 L744.50,124.22 L745.66,123.68 L746.82,123.15 L747.97,122.64 L749.13,122.14 L750.29,121.66 L751.45,121.20 L752.61,120.74 L753.76,120.31 L754.92,119.88 L756.08,119.47 L757.24,119.07 L758.39,118.69 L759.55,118.31 L760.71,117.95 L761.87,117.61 L763.02,117.27 L764.18,116.94 L765.34,116.63 L766.50,116.32 L767.65,116.03 L768.81,115.75 L769.97,115.47 L771.13,115.21 L772.28,114.95 L773.44,114.70 L774.60,114.47 L775.76,114.24 L776.91,114.02 L778.07,113.80 L779.23,113.60 L780.39,113.40 L781.54,113.21 L782.70,113.02 L783.86,112.85 L785.02,112.68 L786.17,112.51 L787.33,112.35 L788.49,112.20 L789.65,112.05 L790.80,111.91 L791.96,111.77 L793.12,111.64 L794.28,111.51 L795.43,111.39 L796.59,111.28 L797.75,111.16" fill="none" stroke="#00A087" stroke-width="2.7" stroke-linejoin="round" stroke-linecap="butt"/>
<path d="M660.00,160.03 L661.16,158.38 L662.32,156.70 L663.47,154.99 L664.63,153.25 L665.79,151.49 L666.95,149.71 L668.10,147.90 L669.26,146.08 L670.42,144.24 L671.58,142.38 L672.73,140.52 L673.89,138.65 L675.05,136.78 L676.21,134.90 L677.36,133.02 L678.52,131.15 L679.68,129.28 L680.84,127.41 L681.99,125.56 L683.15,123.72 L684.31,121.89 L685.47,120.07 L686.62,118.27 L687.78,116.49 L688.94,114.73 L690.10,112.99 L691.25,111.28 L692.41,109.58 L693.57,107.92 L694.73,106.28 L695.88,104.66 L697.04,103.07 L698.20,101.52 L699.36,99.99 L700.51,98.49 L701.67,97.02 L702.83,95.58 L703.99,94.18 L705.14,92.80 L706.30,91.46 L707.46,90.14 L708.62,88.86 L709.78,87.61 L710.93,86.39 L712.09,85.21 L713.25,84.05 L714.41,82.92 L715.56,81.83 L716.72,80.76 L717.88,79.72 L719.04,78.72 L720.19,77.74 L721.35,76.79 L722.51,75.86 L723.67,74.97 L724.82,74.10 L725.98,73.26 L727.14,72.44 L728.30,71.65 L729.45,70.89 L730.61,70.14 L731.77,69.43 L732.93,68.73 L734.08,68.06 L735.24,67.41 L736.40,66.78 L737.56,66.17 L738.71,65.58 L739.87,65.01 L741.03,64.46 L742.19,63.93 L743.34,63.42 L744.50,62.93 L745.66,62.45 L746.82,61.99 L747.97,61.54 L749.13,61.11 L750.29,60.70 L751.45,60.30 L752.61,59.91 L753.76,59.54 L754.92,59.18 L756.08,58.83 L757.24,58.50 L758.39,58.18 L759.55,57.87 L760.71,57.57 L761.87,57.28 L763.02,57.00 L764.18,56.74 L765.34,56.48 L766.50,56.23 L767.65,55.99 L768.81,55.76 L769.97,55.54 L771.13,55.33 L772.28,55.12 L773.44,54.92 L774.60,54.73 L775.76,54.55 L776.91,54.37 L778.07,54.20 L779.23,54.04 L780.39,53.88 L781.54,53.73 L782.70,53.58 L783.86,53.44 L785.02,53.31 L786.17,53.18 L787.33,53.05 L788.49,52.93 L789.65,52.82 L790.80,52.71 L791.96,52.60 L793.12,52.50 L794.28,52.40 L795.43,52.30 L796.59,52.21 L797.75,52.12" fill="none" stroke="#3C5488" stroke-width="2.9" stroke-linejoin="round" stroke-linecap="butt"/>
<path d="M660.00,161.92 L661.16,160.53 L662.32,159.12 L663.47,157.69 L664.63,156.24 L665.79,154.76 L666.95,153.27 L668.10,151.75 L669.26,150.22 L670.42,148.67 L671.58,147.10 L672.73,145.51 L673.89,143.91 L675.05,142.29 L676.21,140.66 L677.36,139.02 L678.52,137.37 L679.68,135.70 L680.84,134.03 L681.99,132.35 L683.15,130.67 L684.31,128.98 L685.47,127.28 L686.62,125.59 L687.78,123.90 L688.94,122.20 L690.10,120.51 L691.25,118.82 L692.41,117.14 L693.57,115.47 L694.73,113.80 L695.88,112.15 L697.04,110.50 L698.20,108.87 L699.36,107.25 L700.51,105.65 L701.67,104.06 L702.83,102.50 L703.99,100.95 L705.14,99.42 L706.30,97.91 L707.46,96.42 L708.62,94.96 L709.78,93.52 L710.93,92.11 L712.09,90.72 L713.25,89.35 L714.41,88.02 L715.56,86.71 L716.72,85.43 L717.88,84.17 L719.04,82.95 L720.19,81.75 L721.35,80.58 L722.51,79.44 L723.67,78.33 L724.82,77.25 L725.98,76.20 L727.14,75.17 L728.30,74.18 L729.45,73.21 L730.61,72.27 L731.77,71.36 L732.93,70.47 L734.08,69.62 L735.24,68.79 L736.40,67.98 L737.56,67.20 L738.71,66.45 L739.87,65.72 L741.03,65.02 L742.19,64.34 L743.34,63.68 L744.50,63.05 L745.66,62.44 L746.82,61.85 L747.97,61.28 L749.13,60.74 L750.29,60.21 L751.45,59.70 L752.61,59.21 L753.76,58.74 L754.92,58.29 L756.08,57.85 L757.24,57.43 L758.39,57.03 L759.55,56.64 L760.71,56.27 L761.87,55.92 L763.02,55.57 L764.18,55.24 L765.34,54.93 L766.50,54.63 L767.65,54.33 L768.81,54.06 L769.97,53.79 L771.13,53.53 L772.28,53.28 L773.44,53.05 L774.60,52.82 L775.76,52.61 L776.91,52.40 L778.07,52.20 L779.23,52.01 L780.39,51.83 L781.54,51.65 L782.70,51.48 L783.86,51.32 L785.02,51.17 L786.17,51.02 L787.33,50.88 L788.49,50.75 L789.65,50.62 L790.80,50.49 L791.96,50.38 L793.12,50.26 L794.28,50.15 L795.43,50.05 L796.59,49.95 L797.75,49.86" fill="none" stroke="#EC9073" stroke-width="2.9" stroke-linejoin="round" stroke-linecap="butt"/>
<path d="M660.00,170.56 L661.16,169.96 L662.32,169.29 L663.47,168.53 L664.63,167.68 L665.79,166.74 L666.95,165.71 L668.10,164.58 L669.26,163.35 L670.42,162.03 L671.58,160.61 L672.73,159.09 L673.89,157.48 L675.05,155.78 L676.21,154.00 L677.36,152.13 L678.52,150.19 L679.68,148.18 L680.84,146.10 L681.99,143.97 L683.15,141.79 L684.31,139.56 L685.47,137.30 L686.62,135.02 L687.78,132.71 L688.94,130.38 L690.10,128.05 L691.25,125.72 L692.41,123.40 L693.57,121.09 L694.73,118.79 L695.88,116.52 L697.04,114.27 L698.20,112.06 L699.36,109.88 L700.51,107.74 L701.67,105.64 L702.83,103.59 L703.99,101.58 L705.14,99.63 L706.30,97.72 L707.46,95.87 L708.62,94.07 L709.78,92.33 L710.93,90.64 L712.09,89.00 L713.25,87.42 L714.41,85.89 L715.56,84.42 L716.72,83.00 L717.88,81.64 L719.04,80.32 L720.19,79.06 L721.35,77.84 L722.51,76.68 L723.67,75.56 L724.82,74.49 L725.98,73.46 L727.14,72.48 L728.30,71.54 L729.45,70.64 L730.61,69.78 L731.77,68.96 L732.93,68.17 L734.08,67.43 L735.24,66.71 L736.40,66.03 L737.56,65.38 L738.71,64.76 L739.87,64.17 L741.03,63.61 L742.19,63.07 L743.34,62.56 L744.50,62.08 L745.66,61.62 L746.82,61.18 L747.97,60.76 L749.13,60.36 L750.29,59.99 L751.45,59.63 L752.61,59.29 L753.76,58.96 L754.92,58.65 L756.08,58.36 L757.24,58.08 L758.39,57.82 L759.55,57.57 L760.71,57.33 L761.87,57.11 L763.02,56.89 L764.18,56.69 L765.34,56.50 L766.50,56.31 L767.65,56.14 L768.81,55.98 L769.97,55.82 L771.13,55.67 L772.28,55.53 L773.44,55.40 L774.60,55.27 L775.76,55.15 L776.91,55.04 L778.07,54.93 L779.23,54.83 L780.39,54.73 L781.54,54.64 L782.70,54.55 L783.86,54.47 L785.02,54.39 L786.17,54.32 L787.33,54.25 L788.49,54.18 L789.65,54.12 L790.80,54.06 L791.96,54.00 L793.12,53.95 L794.28,53.90 L795.43,53.85 L796.59,53.80 L797.75,53.76" fill="none" stroke="#E64B35" stroke-width="2.2" stroke-linejoin="round" stroke-linecap="butt"/>
<path d="M660.00,172.19 L661.16,171.61 L662.32,170.94 L663.47,170.20 L664.63,169.37 L665.79,168.44 L666.95,167.42 L668.10,166.31 L669.26,165.10 L670.42,163.78 L671.58,162.37 L672.73,160.87 L673.89,159.27 L675.05,157.57 L676.21,155.80 L677.36,153.94 L678.52,152.00 L679.68,149.99 L680.84,147.92 L681.99,145.79 L683.15,143.61 L684.31,141.39 L685.47,139.13 L686.62,136.84 L687.78,134.53 L688.94,132.21 L690.10,129.88 L691.25,127.55 L692.41,125.23 L693.57,122.92 L694.73,120.62 L695.88,118.35 L697.04,116.11 L698.20,113.89 L699.36,111.72 L700.51,109.58 L701.67,107.49 L702.83,105.44 L703.99,103.44 L705.14,101.49 L706.30,99.60 L707.46,97.75 L708.62,95.96 L709.78,94.22 L710.93,92.54 L712.09,90.91 L713.25,89.34 L714.41,87.82 L715.56,86.36 L716.72,84.95 L717.88,83.60 L719.04,82.29 L720.19,81.04 L721.35,79.83 L722.51,78.68 L723.67,77.57 L724.82,76.51 L725.98,75.50 L727.14,74.52 L728.30,73.60 L729.45,72.71 L730.61,71.86 L731.77,71.05 L732.93,70.27 L734.08,69.54 L735.24,68.83 L736.40,68.16 L737.56,67.52 L738.71,66.91 L739.87,66.33 L741.03,65.78 L742.19,65.25 L743.34,64.75 L744.50,64.27 L745.66,63.82 L746.82,63.39 L747.97,62.98 L749.13,62.59 L750.29,62.22 L751.45,61.87 L752.61,61.53 L753.76,61.22 L754.92,60.92 L756.08,60.63 L757.24,60.36 L758.39,60.10 L759.55,59.86 L760.71,59.62 L761.87,59.40 L763.02,59.20 L764.18,59.00 L765.34,58.81 L766.50,58.63 L767.65,58.46 L768.81,58.30 L769.97,58.15 L771.13,58.01 L772.28,57.87 L773.44,57.74 L774.60,57.62 L775.76,57.50 L776.91,57.39 L778.07,57.28 L779.23,57.19 L780.39,57.09 L781.54,57.00 L782.70,56.92 L783.86,56.84 L785.02,56.76 L786.17,56.69 L787.33,56.62 L788.49,56.56 L789.65,56.50 L790.80,56.44 L791.96,56.39 L793.12,56.33 L794.28,56.28 L795.43,56.24 L796.59,56.19 L797.75,56.15" fill="none" stroke="#E64B35" stroke-width="2.2" stroke-linejoin="round" stroke-linecap="butt"/>
<path d="M660.00,171.28 L661.16,170.76 L662.32,170.17 L663.47,169.50 L664.63,168.73 L665.79,167.88 L666.95,166.92 L668.10,165.87 L669.26,164.72 L670.42,163.46 L671.58,162.10 L672.73,160.65 L673.89,159.09 L675.05,157.44 L676.21,155.69 L677.36,153.86 L678.52,151.94 L679.68,149.96 L680.84,147.90 L681.99,145.78 L683.15,143.61 L684.31,141.39 L685.47,139.14 L686.62,136.85 L687.78,134.54 L688.94,132.22 L690.10,129.89 L691.25,127.57 L692.41,125.25 L693.57,122.94 L694.73,120.65 L695.88,118.39 L697.04,116.15 L698.20,113.96 L699.36,111.80 L700.51,109.68 L701.67,107.61 L702.83,105.58 L703.99,103.61 L705.14,101.69 L706.30,99.82 L707.46,98.01 L708.62,96.26 L709.78,94.56 L710.93,92.92 L712.09,91.33 L713.25,89.80 L714.41,88.33 L715.56,86.92 L716.72,85.55 L717.88,84.25 L719.04,82.99 L720.19,81.79 L721.35,80.64 L722.51,79.53 L723.67,78.48 L724.82,77.47 L725.98,76.50 L727.14,75.58 L728.30,74.70 L729.45,73.87 L730.61,73.07 L731.77,72.30 L732.93,71.58 L734.08,70.89 L735.24,70.23 L736.40,69.61 L737.56,69.01 L738.71,68.45 L739.87,67.91 L741.03,67.40 L742.19,66.91 L743.34,66.45 L744.50,66.02 L745.66,65.60 L746.82,65.21 L747.97,64.83 L749.13,64.48 L750.29,64.14 L751.45,63.82 L752.61,63.52 L753.76,63.24 L754.92,62.96 L756.08,62.71 L757.24,62.46 L758.39,62.23 L759.55,62.02 L760.71,61.81 L761.87,61.61 L763.02,61.43 L764.18,61.25 L765.34,61.09 L766.50,60.93 L767.65,60.78 L768.81,60.64 L769.97,60.50 L771.13,60.38 L772.28,60.26 L773.44,60.15 L774.60,60.04 L775.76,59.94 L776.91,59.84 L778.07,59.75 L779.23,59.67 L780.39,59.59 L781.54,59.51 L782.70,59.44 L783.86,59.37 L785.02,59.30 L786.17,59.24 L787.33,59.18 L788.49,59.13 L789.65,59.08 L790.80,59.03 L791.96,58.98 L793.12,58.94 L794.28,58.90 L795.43,58.86 L796.59,58.82 L797.75,58.79" fill="none" stroke="#E64B35" stroke-width="2.2" stroke-linejoin="round" stroke-linecap="butt"/>
<line x1="831.00" y1="65.80" x2="856.20" y2="65.80" stroke="#E64B35" stroke-width="1.4"/>
<text x="870.30" y="69.90" font-size="10.7" textLength="50.6" lengthAdjust="spacingAndGlyphs">gRNA-5&amp;2</text>
<line x1="831.00" y1="89.70" x2="856.20" y2="89.70" stroke="#46AECB" stroke-width="1.4"/>
<text x="870.30" y="93.80" font-size="10.7" textLength="62.8" lengthAdjust="spacingAndGlyphs">gRNA-5&amp;2&amp;0</text>
<line x1="831.00" y1="117.40" x2="856.20" y2="117.40" stroke="#00A087" stroke-width="1.4"/>
<text x="870.30" y="121.50" font-size="10.7" textLength="62.8" lengthAdjust="spacingAndGlyphs">gRNA-5&amp;2&amp;1</text>
<line x1="831.00" y1="143.40" x2="856.20" y2="143.40" stroke="#3C5488" stroke-width="1.4"/>
<text x="870.30" y="147.50" font-size="10.7" textLength="62.8" lengthAdjust="spacingAndGlyphs">gRNA-5&amp;2&amp;3</text>
<line x1="831.00" y1="168.90" x2="856.20" y2="168.90" stroke="#EC9073" stroke-width="1.4"/>
<text x="870.30" y="173.00" font-size="10.7" textLength="62.8" lengthAdjust="spacingAndGlyphs">gRNA-5&amp;2&amp;4</text>
<line x1="831.00" y1="193.00" x2="856.20" y2="193.00" stroke="#999999" stroke-width="1.4"/>
<text x="869.30" y="197.10" font-size="10.7" textLength="26.6" lengthAdjust="spacingAndGlyphs">NTCs</text>
<text x="12.00" y="257.80" font-size="11.5" fill="#000" font-weight="bold">i</text>
<line x1="72.60" y1="280.20" x2="72.60" y2="440.50" stroke="#000" stroke-width="1.3"/>
<line x1="66.20" y1="439.50" x2="72.60" y2="439.50" stroke="#000" stroke-width="1.3"/>
<text x="62.60" y="443.30" font-size="10.7" text-anchor="end">0.0</text>
<line x1="66.20" y1="360.15" x2="72.60" y2="360.15" stroke="#000" stroke-width="1.3"/>
<text x="62.60" y="363.95" font-size="10.7" text-anchor="end">0.5</text>
<line x1="66.20" y1="280.80" x2="72.60" y2="280.80" stroke="#000" stroke-width="1.3"/>
<text x="62.60" y="284.60" font-size="10.7" text-anchor="end">1.0</text>
<line x1="72.00" y1="439.60" x2="207.40" y2="439.60" stroke="#000" stroke-width="2"/>
<line x1="72.60" y1="439.60" x2="72.60" y2="446.00" stroke="#000" stroke-width="1.3"/>
<text x="72.60" y="459.30" font-size="10.7" text-anchor="middle">10</text>
<line x1="99.42" y1="439.60" x2="99.42" y2="446.00" stroke="#000" stroke-width="1.3"/>
<text x="99.42" y="459.30" font-size="10.7" text-anchor="middle">20</text>
<line x1="126.24" y1="439.60" x2="126.24" y2="446.00" stroke="#000" stroke-width="1.3"/>
<text x="126.24" y="459.30" font-size="10.7" text-anchor="middle">30</text>
<line x1="153.06" y1="439.60" x2="153.06" y2="446.00" stroke="#000" stroke-width="1.3"/>
<text x="153.06" y="459.30" font-size="10.7" text-anchor="middle">40</text>
<line x1="179.88" y1="439.60" x2="179.88" y2="446.00" stroke="#000" stroke-width="1.3"/>
<text x="179.88" y="459.30" font-size="10.7" text-anchor="middle">50</text>
<line x1="206.70" y1="439.60" x2="206.70" y2="446.00" stroke="#000" stroke-width="1.3"/>
<text x="206.70" y="459.30" font-size="10.7" text-anchor="middle">60</text>
<text x="140.50" y="477.30" font-size="10.7" text-anchor="middle" textLength="49.9" lengthAdjust="spacingAndGlyphs">Time (min)</text>
<text x="0.00" y="0.00" font-size="11.8" text-anchor="middle" textLength="73.6" lengthAdjust="spacingAndGlyphs" transform="translate(38.6,363.6) rotate(-90)">Nomalized RFU</text>
<path d="M72.60,426.76 L73.73,425.75 L74.85,424.67 L75.98,423.52 L77.11,422.30 L78.23,421.01 L79.36,419.65 L80.49,418.22 L81.62,416.72 L82.74,415.15 L83.87,413.52 L85.00,411.83 L86.12,410.07 L87.25,408.26 L88.38,406.40 L89.50,404.48 L90.63,402.52 L91.76,400.52 L92.88,398.48 L94.01,396.40 L95.14,394.29 L96.26,392.16 L97.39,390.00 L98.52,387.83 L99.65,385.65 L100.77,383.45 L101.90,381.25 L103.03,379.05 L104.15,376.85 L105.28,374.65 L106.41,372.47 L107.53,370.30 L108.66,368.14 L109.79,366.01 L110.91,363.89 L112.04,361.80 L113.17,359.74 L114.29,357.71 L115.42,355.70 L116.55,353.73 L117.68,351.80 L118.80,349.90 L119.93,348.03 L121.06,346.21 L122.18,344.42 L123.31,342.68 L124.44,340.97 L125.56,339.30 L126.69,337.68 L127.82,336.10 L128.94,334.56 L130.07,333.06 L131.20,331.60 L132.33,330.18 L133.45,328.80 L134.58,327.47 L135.71,326.17 L136.83,324.91 L137.96,323.70 L139.09,322.52 L140.21,321.38 L141.34,320.27 L142.47,319.21 L143.59,318.17 L144.72,317.18 L145.85,316.21 L146.97,315.28 L148.10,314.39 L149.23,313.52 L150.36,312.68 L151.48,311.88 L152.61,311.10 L153.74,310.36 L154.86,309.64 L155.99,308.94 L157.12,308.27 L158.24,307.63 L159.37,307.01 L160.50,306.42 L161.62,305.85 L162.75,305.29 L163.88,304.77 L165.01,304.26 L166.13,303.77 L167.26,303.30 L168.39,302.85 L169.51,302.41 L170.64,302.00 L171.77,301.60 L172.89,301.21 L174.02,300.84 L175.15,300.49 L176.27,300.15 L177.40,299.83 L178.53,299.51 L179.65,299.21 L180.78,298.92 L181.91,298.65 L183.04,298.38 L184.16,298.13 L185.29,297.89 L186.42,297.65 L187.54,297.43 L188.67,297.21 L189.80,297.01 L190.92,296.81 L192.05,296.62 L193.18,296.44 L194.30,296.27 L195.43,296.10 L196.56,295.94 L197.68,295.79 L198.81,295.64 L199.94,295.50 L201.07,295.37 L202.19,295.24 L203.32,295.11 L204.45,295.00 L205.57,294.88 L206.70,294.77" fill="none" stroke="#efdada" stroke-width="5.2" stroke-linejoin="round" stroke-linecap="butt" opacity="0.85"/>
<path d="M72.60,420.00 L73.73,417.91 L74.85,415.52 L75.98,412.84 L77.11,409.88 L78.23,406.64 L79.36,403.15 L80.49,399.43 L81.62,395.52 L82.74,391.44 L83.87,387.22 L85.00,382.91 L86.12,378.54 L87.25,374.13 L88.38,369.73 L89.50,365.35 L90.63,361.04 L91.76,356.80 L92.88,352.66 L94.01,348.64 L95.14,344.75 L96.26,341.00 L97.39,337.40 L98.52,333.96 L99.65,330.69 L100.77,327.57 L101.90,324.61 L103.03,321.82 L104.15,319.19 L105.28,316.71 L106.41,314.38 L107.53,312.19 L108.66,310.15 L109.79,308.24 L110.91,306.46 L112.04,304.79 L113.17,303.25 L114.29,301.81 L115.42,300.47 L116.55,299.23 L117.68,298.08 L118.80,297.01 L119.93,296.02 L121.06,295.11 L122.18,294.26 L123.31,293.48 L124.44,292.76 L125.56,292.09 L126.69,291.48 L127.82,290.91 L128.94,290.39 L130.07,289.91 L131.20,289.46 L132.33,289.05 L133.45,288.67 L134.58,288.33 L135.71,288.01 L136.83,287.71 L137.96,287.44 L139.09,287.19 L140.21,286.96 L141.34,286.75 L142.47,286.56 L143.59,286.38 L144.72,286.21 L145.85,286.06 L146.97,285.92 L148.10,285.80 L149.23,285.68 L150.36,285.57 L151.48,285.47 L152.61,285.38 L153.74,285.30 L154.86,285.22 L155.99,285.15 L157.12,285.09 L158.24,285.03 L159.37,284.97 L160.50,284.92 L161.62,284.87 L162.75,284.83 L163.88,284.79 L165.01,284.76 L166.13,284.72 L167.26,284.69 L168.39,284.67 L169.51,284.64 L170.64,284.62 L171.77,284.60 L172.89,284.58 L174.02,284.56 L175.15,284.54 L176.27,284.53 L177.40,284.51 L178.53,284.50 L179.65,284.49 L180.78,284.48 L181.91,284.47 L183.04,284.46 L184.16,284.45 L185.29,284.44 L186.42,284.43 L187.54,284.43 L188.67,284.42 L189.80,284.41 L190.92,284.41 L192.05,284.40 L193.18,284.40 L194.30,284.40 L195.43,284.39 L196.56,284.39 L197.68,284.39 L198.81,284.38 L199.94,284.38 L201.07,284.38 L202.19,284.38 L203.32,284.37 L204.45,284.37 L205.57,284.37 L206.70,284.37" fill="none" stroke="#ececec" stroke-width="4.2" stroke-linejoin="round" stroke-linecap="butt" opacity="0.85"/>
<path d="M72.60,430.59 L73.73,430.35 L74.85,430.09 L75.98,429.82 L77.11,429.54 L78.23,429.24 L79.36,428.92 L80.49,428.59 L81.62,428.23 L82.74,427.86 L83.87,427.47 L85.00,427.06 L86.12,426.62 L87.25,426.16 L88.38,425.68 L89.50,425.18 L90.63,424.65 L91.76,424.10 L92.88,423.51 L94.01,422.90 L95.14,422.27 L96.26,421.60 L97.39,420.90 L98.52,420.17 L99.65,419.41 L100.77,418.62 L101.90,417.79 L103.03,416.93 L104.15,416.04 L105.28,415.11 L106.41,414.15 L107.53,413.15 L108.66,412.12 L109.79,411.05 L110.91,409.95 L112.04,408.81 L113.17,407.64 L114.29,406.43 L115.42,405.19 L116.55,403.91 L117.68,402.60 L118.80,401.26 L119.93,399.88 L121.06,398.48 L122.18,397.04 L123.31,395.58 L124.44,394.10 L125.56,392.58 L126.69,391.05 L127.82,389.49 L128.94,387.91 L130.07,386.32 L131.20,384.71 L132.33,383.08 L133.45,381.44 L134.58,379.80 L135.71,378.14 L136.83,376.49 L137.96,374.82 L139.09,373.16 L140.21,371.50 L141.34,369.85 L142.47,368.20 L143.59,366.55 L144.72,364.92 L145.85,363.30 L146.97,361.69 L148.10,360.10 L149.23,358.53 L150.36,356.98 L151.48,355.44 L152.61,353.93 L153.74,352.44 L154.86,350.98 L155.99,349.55 L157.12,348.14 L158.24,346.76 L159.37,345.40 L160.50,344.08 L161.62,342.79 L162.75,341.53 L163.88,340.30 L165.01,339.10 L166.13,337.93 L167.26,336.79 L168.39,335.69 L169.51,334.61 L170.64,333.57 L171.77,332.56 L172.89,331.58 L174.02,330.63 L175.15,329.72 L176.27,328.83 L177.40,327.97 L178.53,327.14 L179.65,326.34 L180.78,325.57 L181.91,324.82 L183.04,324.10 L184.16,323.41 L185.29,322.74 L186.42,322.10 L187.54,321.49 L188.67,320.89 L189.80,320.32 L190.92,319.77 L192.05,319.25 L193.18,318.74 L194.30,318.25 L195.43,317.79 L196.56,317.34 L197.68,316.91 L198.81,316.50 L199.94,316.10 L201.07,315.73 L202.19,315.37 L203.32,315.02 L204.45,314.69 L205.57,314.37 L206.70,314.06" fill="none" stroke="#eaeaea" stroke-width="4.5" stroke-linejoin="round" stroke-linecap="butt" opacity="0.85"/>
<path d="M83.06,430.30 L84.10,430.24 L85.14,430.18 L86.18,430.12 L87.22,430.06 L88.25,430.00 L89.29,429.94 L90.33,429.88 L91.37,429.82 L92.41,429.76 L93.45,429.70 L94.49,429.65 L95.53,429.59 L96.57,429.53 L97.61,429.47 L98.64,429.42 L99.68,429.36 L100.72,429.30 L101.76,429.24 L102.80,429.19 L103.84,429.13 L104.88,429.07 L105.92,429.02 L106.96,428.96 L108.00,428.90 L109.03,428.85 L110.07,428.79 L111.11,428.73 L112.15,428.68 L113.19,428.62 L114.23,428.57 L115.27,428.51 L116.31,428.45 L117.35,428.40 L118.39,428.34 L119.42,428.29 L120.46,428.24 L121.50,428.18 L122.54,428.13 L123.58,428.08 L124.62,428.02 L125.66,427.97 L126.70,427.92 L127.74,427.87 L128.78,427.82 L129.81,427.76 L130.85,427.71 L131.89,427.66 L132.93,427.61 L133.97,427.56 L135.01,427.51 L136.05,427.46 L137.09,427.42 L138.13,427.37 L139.17,427.32 L140.20,427.27 L141.24,427.22 L142.28,427.17 L143.32,427.12 L144.36,427.07 L145.40,427.02 L146.44,426.97 L147.48,426.92 L148.52,426.88 L149.56,426.83 L150.59,426.78 L151.63,426.73 L152.67,426.68 L153.71,426.64 L154.75,426.59 L155.79,426.54 L156.83,426.49 L157.87,426.45 L158.91,426.40 L159.95,426.35 L160.98,426.31 L162.02,426.26 L163.06,426.21 L164.10,426.17 L165.14,426.12 L166.18,426.07 L167.22,426.03 L168.26,425.98 L169.30,425.94 L170.34,425.89 L171.37,425.85 L172.41,425.80 L173.45,425.76 L174.49,425.71 L175.53,425.67 L176.57,425.62 L177.61,425.58 L178.65,425.53 L179.69,425.49 L180.73,425.45 L181.76,425.40 L182.80,425.36 L183.84,425.32 L184.88,425.27 L185.92,425.23 L186.96,425.19 L188.00,425.15 L189.04,425.10 L190.08,425.06 L191.12,425.02 L192.15,424.98 L193.19,424.94 L194.23,424.90 L195.27,424.86 L196.31,424.82 L197.35,424.78 L198.39,424.74 L199.43,424.70 L200.47,424.66 L201.51,424.62 L202.54,424.58 L203.58,424.54 L204.62,424.50 L205.66,424.46 L206.70,424.42" fill="none" stroke="#8491B4" stroke-width="1.4" stroke-linejoin="round" stroke-linecap="butt"/>
<path d="M83.06,430.30 L84.10,430.19 L85.14,430.09 L86.18,429.98 L87.22,429.88 L88.25,429.77 L89.29,429.66 L90.33,429.56 L91.37,429.45 L92.41,429.34 L93.45,429.23 L94.49,429.13 L95.53,429.02 L96.57,428.91 L97.61,428.80 L98.64,428.69 L99.68,428.58 L100.72,428.47 L101.76,428.36 L102.80,428.26 L103.84,428.15 L104.88,428.05 L105.92,427.95 L106.96,427.86 L108.00,427.76 L109.03,427.66 L110.07,427.57 L111.11,427.47 L112.15,427.37 L113.19,427.27 L114.23,427.17 L115.27,427.07 L116.31,426.96 L117.35,426.86 L118.39,426.75 L119.42,426.63 L120.46,426.52 L121.50,426.40 L122.54,426.27 L123.58,426.14 L124.62,426.01 L125.66,425.87 L126.70,425.72 L127.74,425.57 L128.78,425.41 L129.81,425.25 L130.85,425.06 L131.89,424.83 L132.93,424.58 L133.97,424.31 L135.01,424.04 L136.05,423.78 L137.09,423.54 L138.13,423.32 L139.17,423.09 L140.20,422.87 L141.24,422.65 L142.28,422.43 L143.32,422.21 L144.36,422.00 L145.40,421.79 L146.44,421.58 L147.48,421.37 L148.52,421.16 L149.56,420.96 L150.59,420.75 L151.63,420.55 L152.67,420.35 L153.71,420.14 L154.75,419.94 L155.79,419.74 L156.83,419.54 L157.87,419.33 L158.91,419.13 L159.95,418.93 L160.98,418.73 L162.02,418.52 L163.06,418.32 L164.10,418.11 L165.14,417.90 L166.18,417.69 L167.22,417.48 L168.26,417.27 L169.30,417.05 L170.34,416.84 L171.37,416.62 L172.41,416.39 L173.45,416.17 L174.49,415.94 L175.53,415.71 L176.57,415.49 L177.61,415.26 L178.65,415.02 L179.69,414.79 L180.73,414.56 L181.76,414.32 L182.80,414.09 L183.84,413.85 L184.88,413.61 L185.92,413.38 L186.96,413.14 L188.00,412.90 L189.04,412.65 L190.08,412.41 L191.12,412.17 L192.15,411.92 L193.19,411.68 L194.23,411.43 L195.27,411.18 L196.31,410.93 L197.35,410.68 L198.39,410.43 L199.43,410.18 L200.47,409.93 L201.51,409.67 L202.54,409.42 L203.58,409.17 L204.62,408.91 L205.66,408.65 L206.70,408.39" fill="none" stroke="#EC9073" stroke-width="1.4" stroke-linejoin="round" stroke-linecap="butt"/>
<path d="M83.06,430.04 L84.10,429.99 L85.14,429.94 L86.18,429.89 L87.22,429.83 L88.25,429.76 L89.29,429.69 L90.33,429.61 L91.37,429.53 L92.41,429.44 L93.45,429.34 L94.49,429.24 L95.53,429.12 L96.57,429.00 L97.61,428.86 L98.64,428.72 L99.68,428.57 L100.72,428.40 L101.76,428.22 L102.80,428.03 L103.84,427.83 L104.88,427.61 L105.92,427.38 L106.96,427.13 L108.00,426.87 L109.03,426.59 L110.07,426.29 L111.11,425.98 L112.15,425.65 L113.19,425.30 L114.23,424.93 L115.27,424.54 L116.31,424.13 L117.35,423.70 L118.39,423.25 L119.42,422.78 L120.46,422.28 L121.50,421.77 L122.54,421.23 L123.58,420.68 L124.62,420.10 L125.66,419.50 L126.70,418.88 L127.74,418.24 L128.78,417.58 L129.81,416.90 L130.85,416.20 L131.89,415.48 L132.93,414.74 L133.97,413.98 L135.01,413.21 L136.05,412.42 L137.09,411.62 L138.13,410.80 L139.17,409.97 L140.20,409.13 L141.24,408.27 L142.28,407.41 L143.32,406.53 L144.36,405.65 L145.40,404.76 L146.44,403.87 L147.48,402.97 L148.52,402.06 L149.56,401.16 L150.59,400.25 L151.63,399.35 L152.67,398.44 L153.71,397.54 L154.75,396.64 L155.79,395.74 L156.83,394.85 L157.87,393.97 L158.91,393.09 L159.95,392.22 L160.98,391.36 L162.02,390.51 L163.06,389.67 L164.10,388.83 L165.14,388.02 L166.18,387.21 L167.22,386.41 L168.26,385.63 L169.30,384.86 L170.34,384.10 L171.37,383.36 L172.41,382.63 L173.45,381.92 L174.49,381.22 L175.53,380.54 L176.57,379.87 L177.61,379.22 L178.65,378.58 L179.69,377.96 L180.73,377.35 L181.76,376.76 L182.80,376.18 L183.84,375.62 L184.88,375.07 L185.92,374.54 L186.96,374.02 L188.00,373.51 L189.04,373.03 L190.08,372.55 L191.12,372.09 L192.15,371.64 L193.19,371.21 L194.23,370.78 L195.27,370.38 L196.31,369.98 L197.35,369.60 L198.39,369.23 L199.43,368.87 L200.47,368.52 L201.51,368.18 L202.54,367.86 L203.58,367.54 L204.62,367.24 L205.66,366.94 L206.70,366.66" fill="none" stroke="#3C5488" stroke-width="1.4" stroke-linejoin="round" stroke-linecap="butt"/>
<path d="M72.60,430.59 L73.73,430.35 L74.85,430.09 L75.98,429.82 L77.11,429.54 L78.23,429.24 L79.36,428.92 L80.49,428.59 L81.62,428.23 L82.74,427.86 L83.87,427.47 L85.00,427.06 L86.12,426.62 L87.25,426.16 L88.38,425.68 L89.50,425.18 L90.63,424.65 L91.76,424.10 L92.88,423.51 L94.01,422.90 L95.14,422.27 L96.26,421.60 L97.39,420.90 L98.52,420.17 L99.65,419.41 L100.77,418.62 L101.90,417.79 L103.03,416.93 L104.15,416.04 L105.28,415.11 L106.41,414.15 L107.53,413.15 L108.66,412.12 L109.79,411.05 L110.91,409.95 L112.04,408.81 L113.17,407.64 L114.29,406.43 L115.42,405.19 L116.55,403.91 L117.68,402.60 L118.80,401.26 L119.93,399.88 L121.06,398.48 L122.18,397.04 L123.31,395.58 L124.44,394.10 L125.56,392.58 L126.69,391.05 L127.82,389.49 L128.94,387.91 L130.07,386.32 L131.20,384.71 L132.33,383.08 L133.45,381.44 L134.58,379.80 L135.71,378.14 L136.83,376.49 L137.96,374.82 L139.09,373.16 L140.21,371.50 L141.34,369.85 L142.47,368.20 L143.59,366.55 L144.72,364.92 L145.85,363.30 L146.97,361.69 L148.10,360.10 L149.23,358.53 L150.36,356.98 L151.48,355.44 L152.61,353.93 L153.74,352.44 L154.86,350.98 L155.99,349.55 L157.12,348.14 L158.24,346.76 L159.37,345.40 L160.50,344.08 L161.62,342.79 L162.75,341.53 L163.88,340.30 L165.01,339.10 L166.13,337.93 L167.26,336.79 L168.39,335.69 L169.51,334.61 L170.64,333.57 L171.77,332.56 L172.89,331.58 L174.02,330.63 L175.15,329.72 L176.27,328.83 L177.40,327.97 L178.53,327.14 L179.65,326.34 L180.78,325.57 L181.91,324.82 L183.04,324.10 L184.16,323.41 L185.29,322.74 L186.42,322.10 L187.54,321.49 L188.67,320.89 L189.80,320.32 L190.92,319.77 L192.05,319.25 L193.18,318.74 L194.30,318.25 L195.43,317.79 L196.56,317.34 L197.68,316.91 L198.81,316.50 L199.94,316.10 L201.07,315.73 L202.19,315.37 L203.32,315.02 L204.45,314.69 L205.57,314.37 L206.70,314.06" fill="none" stroke="#00A087" stroke-width="1.4" stroke-linejoin="round" stroke-linecap="butt"/>
<path d="M72.60,426.76 L73.73,425.75 L74.85,424.67 L75.98,423.52 L77.11,422.30 L78.23,421.01 L79.36,419.65 L80.49,418.22 L81.62,416.72 L82.74,415.15 L83.87,413.52 L85.00,411.83 L86.12,410.07 L87.25,408.26 L88.38,406.40 L89.50,404.48 L90.63,402.52 L91.76,400.52 L92.88,398.48 L94.01,396.40 L95.14,394.29 L96.26,392.16 L97.39,390.00 L98.52,387.83 L99.65,385.65 L100.77,383.45 L101.90,381.25 L103.03,379.05 L104.15,376.85 L105.28,374.65 L106.41,372.47 L107.53,370.30 L108.66,368.14 L109.79,366.01 L110.91,363.89 L112.04,361.80 L113.17,359.74 L114.29,357.71 L115.42,355.70 L116.55,353.73 L117.68,351.80 L118.80,349.90 L119.93,348.03 L121.06,346.21 L122.18,344.42 L123.31,342.68 L124.44,340.97 L125.56,339.30 L126.69,337.68 L127.82,336.10 L128.94,334.56 L130.07,333.06 L131.20,331.60 L132.33,330.18 L133.45,328.80 L134.58,327.47 L135.71,326.17 L136.83,324.91 L137.96,323.70 L139.09,322.52 L140.21,321.38 L141.34,320.27 L142.47,319.21 L143.59,318.17 L144.72,317.18 L145.85,316.21 L146.97,315.28 L148.10,314.39 L149.23,313.52 L150.36,312.68 L151.48,311.88 L152.61,311.10 L153.74,310.36 L154.86,309.64 L155.99,308.94 L157.12,308.27 L158.24,307.63 L159.37,307.01 L160.50,306.42 L161.62,305.85 L162.75,305.29 L163.88,304.77 L165.01,304.26 L166.13,303.77 L167.26,303.30 L168.39,302.85 L169.51,302.41 L170.64,302.00 L171.77,301.60 L172.89,301.21 L174.02,300.84 L175.15,300.49 L176.27,300.15 L177.40,299.83 L178.53,299.51 L179.65,299.21 L180.78,298.92 L181.91,298.65 L183.04,298.38 L184.16,298.13 L185.29,297.89 L186.42,297.65 L187.54,297.43 L188.67,297.21 L189.80,297.01 L190.92,296.81 L192.05,296.62 L193.18,296.44 L194.30,296.27 L195.43,296.10 L196.56,295.94 L197.68,295.79 L198.81,295.64 L199.94,295.50 L201.07,295.37 L202.19,295.24 L203.32,295.11 L204.45,295.00 L205.57,294.88 L206.70,294.77" fill="none" stroke="#E64B35" stroke-width="1.4" stroke-linejoin="round" stroke-linecap="butt"/>
<path d="M72.60,420.00 L73.73,417.91 L74.85,415.52 L75.98,412.84 L77.11,409.88 L78.23,406.64 L79.36,403.15 L80.49,399.43 L81.62,395.52 L82.74,391.44 L83.87,387.22 L85.00,382.91 L86.12,378.54 L87.25,374.13 L88.38,369.73 L89.50,365.35 L90.63,361.04 L91.76,356.80 L92.88,352.66 L94.01,348.64 L95.14,344.75 L96.26,341.00 L97.39,337.40 L98.52,333.96 L99.65,330.69 L100.77,327.57 L101.90,324.61 L103.03,321.82 L104.15,319.19 L105.28,316.71 L106.41,314.38 L107.53,312.19 L108.66,310.15 L109.79,308.24 L110.91,306.46 L112.04,304.79 L113.17,303.25 L114.29,301.81 L115.42,300.47 L116.55,299.23 L117.68,298.08 L118.80,297.01 L119.93,296.02 L121.06,295.11 L122.18,294.26 L123.31,293.48 L124.44,292.76 L125.56,292.09 L126.69,291.48 L127.82,290.91 L128.94,290.39 L130.07,289.91 L131.20,289.46 L132.33,289.05 L133.45,288.67 L134.58,288.33 L135.71,288.01 L136.83,287.71 L137.96,287.44 L139.09,287.19 L140.21,286.96 L141.34,286.75 L142.47,286.56 L143.59,286.38 L144.72,286.21 L145.85,286.06 L146.97,285.92 L148.10,285.80 L149.23,285.68 L150.36,285.57 L151.48,285.47 L152.61,285.38 L153.74,285.30 L154.86,285.22 L155.99,285.15 L157.12,285.09 L158.24,285.03 L159.37,284.97 L160.50,284.92 L161.62,284.87 L162.75,284.83 L163.88,284.79 L165.01,284.76 L166.13,284.72 L167.26,284.69 L168.39,284.67 L169.51,284.64 L170.64,284.62 L171.77,284.60 L172.89,284.58 L174.02,284.56 L175.15,284.54 L176.27,284.53 L177.40,284.51 L178.53,284.50 L179.65,284.49 L180.78,284.48 L181.91,284.47 L183.04,284.46 L184.16,284.45 L185.29,284.44 L186.42,284.43 L187.54,284.43 L188.67,284.42 L189.80,284.41 L190.92,284.41 L192.05,284.40 L193.18,284.40 L194.30,284.40 L195.43,284.39 L196.56,284.39 L197.68,284.39 L198.81,284.38 L199.94,284.38 L201.07,284.38 L202.19,284.38 L203.32,284.37 L204.45,284.37 L205.57,284.37 L206.70,284.37" fill="none" stroke="#46AECB" stroke-width="1.4" stroke-linejoin="round" stroke-linecap="butt"/>
<path d="M124.90,425.06 L206.70,423.63" fill="none" stroke="#111" stroke-width="1.1" stroke-linejoin="round" stroke-linecap="butt" stroke-dasharray="3 4 5 2.5 2 3 7 2"/>
<line x1="227.20" y1="294.40" x2="253.00" y2="294.40" stroke="#46AECB" stroke-width="1.4"/>
<text x="266.80" y="301.70" font-size="10.7">10<tspan dy="-5" font-size="8.2">4</tspan></text>
<line x1="226.00" y1="317.40" x2="251.80" y2="317.40" stroke="#E64B35" stroke-width="1.4"/>
<text x="265.50" y="324.60" font-size="10.7">10<tspan dy="-5" font-size="8.2">3</tspan></text>
<line x1="227.20" y1="338.10" x2="253.00" y2="338.10" stroke="#00A087" stroke-width="1.4"/>
<text x="266.80" y="345.60" font-size="10.7">10<tspan dy="-5" font-size="8.2">2</tspan></text>
<line x1="227.20" y1="360.70" x2="253.00" y2="360.70" stroke="#3C5488" stroke-width="1.4"/>
<text x="266.40" y="365.30" font-size="10.7">10</text>
<line x1="227.20" y1="382.90" x2="253.00" y2="382.90" stroke="#EC9073" stroke-width="1.4"/>
<text x="266.40" y="387.90" font-size="10.7">5</text>
<line x1="227.20" y1="405.80" x2="253.00" y2="405.80" stroke="#8491B4" stroke-width="1.4"/>
<text x="266.40" y="410.40" font-size="10.7">1</text>
<line x1="227.20" y1="424.20" x2="253.00" y2="424.20" stroke="#000" stroke-width="1.4"/>
<text x="266.40" y="428.60" font-size="10.7">0</text>
<text x="297.60" y="258.40" font-size="11.5" fill="#000" font-weight="bold">j</text>
<rect x="379.10" y="282.59" width="13.6" height="157.11" fill="#ddb5b0" stroke="#222" stroke-width="1.3"/>
<rect x="404.65" y="293.76" width="13.6" height="145.94" fill="#ddb5b0" stroke="#222" stroke-width="1.3"/>
<rect x="430.20" y="318.80" width="13.6" height="120.90" fill="#ddb5b0" stroke="#222" stroke-width="1.3"/>
<rect x="455.75" y="353.57" width="13.6" height="86.13" fill="#ddb5b0" stroke="#222" stroke-width="1.3"/>
<rect x="481.30" y="408.44" width="13.6" height="31.26" fill="#ddb5b0" stroke="#222" stroke-width="1.3"/>
<rect x="506.85" y="422.95" width="13.6" height="16.75" fill="#d9d9d9" stroke="#222" stroke-width="1.3"/>
<rect x="532.40" y="424.71" width="13.6" height="14.99" fill="#d9d9d9" stroke="#222" stroke-width="1.3"/>
<line x1="371.80" y1="418.40" x2="554.80" y2="418.40" stroke="#111" stroke-width="1.2" stroke-dasharray="4.2 2.6"/>
<line x1="411.45" y1="289.77" x2="411.45" y2="297.75" stroke="#a01b0c" stroke-width="1.3"/>
<line x1="407.45" y1="289.77" x2="415.45" y2="289.77" stroke="#a01b0c" stroke-width="1.3"/>
<line x1="407.45" y1="297.75" x2="415.45" y2="297.75" stroke="#a01b0c" stroke-width="1.3"/>
<line x1="437.00" y1="305.72" x2="437.00" y2="329.64" stroke="#a01b0c" stroke-width="1.3"/>
<line x1="433.00" y1="305.72" x2="441.00" y2="305.72" stroke="#a01b0c" stroke-width="1.3"/>
<line x1="433.00" y1="329.64" x2="441.00" y2="329.64" stroke="#a01b0c" stroke-width="1.3"/>
<line x1="462.55" y1="342.40" x2="462.55" y2="363.14" stroke="#a01b0c" stroke-width="1.3"/>
<line x1="458.55" y1="342.40" x2="466.55" y2="342.40" stroke="#a01b0c" stroke-width="1.3"/>
<line x1="458.55" y1="363.14" x2="466.55" y2="363.14" stroke="#a01b0c" stroke-width="1.3"/>
<line x1="488.10" y1="397.75" x2="488.10" y2="417.85" stroke="#a01b0c" stroke-width="1.3"/>
<line x1="484.10" y1="397.75" x2="492.10" y2="397.75" stroke="#a01b0c" stroke-width="1.3"/>
<line x1="484.10" y1="417.85" x2="492.10" y2="417.85" stroke="#a01b0c" stroke-width="1.3"/>
<circle cx="380.80" cy="281.80" r="2.35" fill="#a01b0c"/>
<circle cx="383.30" cy="279.60" r="2.35" fill="#a01b0c"/>
<circle cx="386.00" cy="281.20" r="2.35" fill="#a01b0c"/>
<circle cx="388.20" cy="280.60" r="2.35" fill="#a01b0c"/>
<circle cx="390.80" cy="283.90" r="2.35" fill="#a01b0c"/>
<circle cx="406.50" cy="288.50" r="2.35" fill="#a01b0c"/>
<circle cx="409.90" cy="291.60" r="2.35" fill="#a01b0c"/>
<circle cx="416.60" cy="292.50" r="2.35" fill="#a01b0c"/>
<circle cx="406.50" cy="295.90" r="2.35" fill="#a01b0c"/>
<circle cx="412.90" cy="295.60" r="2.35" fill="#a01b0c"/>
<circle cx="432.00" cy="306.30" r="2.35" fill="#a01b0c"/>
<circle cx="442.00" cy="310.90" r="2.35" fill="#a01b0c"/>
<circle cx="432.00" cy="312.90" r="2.35" fill="#a01b0c"/>
<circle cx="438.60" cy="322.30" r="2.35" fill="#a01b0c"/>
<circle cx="437.10" cy="335.70" r="2.35" fill="#a01b0c"/>
<circle cx="457.70" cy="343.70" r="2.35" fill="#a01b0c"/>
<circle cx="467.10" cy="340.60" r="2.35" fill="#a01b0c"/>
<circle cx="457.10" cy="356.30" r="2.35" fill="#a01b0c"/>
<circle cx="467.10" cy="360.00" r="2.35" fill="#a01b0c"/>
<circle cx="458.00" cy="363.40" r="2.35" fill="#a01b0c"/>
<circle cx="483.20" cy="397.40" r="2.35" fill="#a01b0c"/>
<circle cx="493.30" cy="400.10" r="2.35" fill="#a01b0c"/>
<circle cx="488.00" cy="407.50" r="2.35" fill="#a01b0c"/>
<circle cx="488.00" cy="412.40" r="2.35" fill="#a01b0c"/>
<circle cx="488.00" cy="422.20" r="2.4" fill="#9a9a9a"/>
<circle cx="509.00" cy="421.60" r="2.4" fill="#9a9a9a"/>
<circle cx="513.50" cy="420.50" r="2.4" fill="#9a9a9a"/>
<circle cx="517.50" cy="422.50" r="2.4" fill="#9a9a9a"/>
<circle cx="511.00" cy="423.50" r="2.4" fill="#9a9a9a"/>
<circle cx="534.50" cy="421.80" r="2.4" fill="#9a9a9a"/>
<circle cx="537.00" cy="423.50" r="2.4" fill="#9a9a9a"/>
<circle cx="541.00" cy="424.80" r="2.4" fill="#9a9a9a"/>
<circle cx="543.50" cy="424.00" r="2.4" fill="#9a9a9a"/>
<circle cx="539.00" cy="425.50" r="2.4" fill="#9a9a9a"/>
<line x1="371.80" y1="278.50" x2="371.80" y2="440.50" stroke="#000" stroke-width="1.3"/>
<line x1="365.00" y1="439.70" x2="371.80" y2="439.70" stroke="#000" stroke-width="1.3"/>
<text x="361.20" y="443.50" font-size="10.7" text-anchor="end">0.0</text>
<line x1="365.00" y1="359.95" x2="371.80" y2="359.95" stroke="#000" stroke-width="1.3"/>
<text x="361.20" y="363.75" font-size="10.7" text-anchor="end">0.5</text>
<line x1="365.00" y1="280.20" x2="371.80" y2="280.20" stroke="#000" stroke-width="1.3"/>
<text x="361.20" y="284.00" font-size="10.7" text-anchor="end">1.0</text>
<line x1="365.30" y1="439.70" x2="554.80" y2="439.70" stroke="#444" stroke-width="2.0"/>
<line x1="385.90" y1="439.70" x2="385.90" y2="446.00" stroke="#444" stroke-width="1.3"/>
<line x1="411.45" y1="439.70" x2="411.45" y2="446.00" stroke="#444" stroke-width="1.3"/>
<line x1="437.00" y1="439.70" x2="437.00" y2="446.00" stroke="#444" stroke-width="1.3"/>
<line x1="462.55" y1="439.70" x2="462.55" y2="446.00" stroke="#444" stroke-width="1.3"/>
<line x1="488.10" y1="439.70" x2="488.10" y2="446.00" stroke="#444" stroke-width="1.3"/>
<line x1="513.65" y1="439.70" x2="513.65" y2="446.00" stroke="#444" stroke-width="1.3"/>
<line x1="539.20" y1="439.70" x2="539.20" y2="446.00" stroke="#444" stroke-width="1.3"/>
<text x="385.60" y="462.00" font-size="10.7" text-anchor="middle">10<tspan dy="-5" font-size="8.3">4</tspan></text>
<text x="411.15" y="462.00" font-size="10.7" text-anchor="middle">10<tspan dy="-5" font-size="8.3">3</tspan></text>
<text x="436.70" y="462.00" font-size="10.7" text-anchor="middle">10<tspan dy="-5" font-size="8.3">2</tspan></text>
<text x="462.55" y="459.20" font-size="10.7" text-anchor="middle">10</text>
<text x="488.10" y="459.20" font-size="10.7" text-anchor="middle">5</text>
<text x="513.65" y="459.20" font-size="10.7" text-anchor="middle">1</text>
<text x="539.20" y="459.20" font-size="10.7" text-anchor="middle">0</text>
<text x="459.00" y="474.80" font-size="10.7" text-anchor="middle" textLength="79.6" lengthAdjust="spacingAndGlyphs">IS6110 (copy/μL)</text>
<text x="0.00" y="0.00" font-size="14.6" text-anchor="middle" textLength="158.5" lengthAdjust="spacingAndGlyphs" transform="translate(336.3,363.6) rotate(-90)">Nomalized RFU at 60 min</text>
<path d="M410.4,271.6 L410.4,267.1 L513.9,267.1 L513.9,343" fill="none" stroke="#111" stroke-width="1.3"/>
<line x1="384.10" y1="274.40" x2="464.30" y2="274.40" stroke="#111" stroke-width="1.3"/>
<text x="454.60" y="257.00" font-size="10.7" text-anchor="middle" textLength="38.8" lengthAdjust="spacingAndGlyphs">p=0.008</text>
<path d="M488.6,389.7 L488.6,377.4 L539.4,377.4 L539.4,416.3" fill="none" stroke="#111" stroke-width="1.3"/>
<text x="512.30" y="367.60" font-size="10.7" text-anchor="middle" textLength="39.8" lengthAdjust="spacingAndGlyphs">p=0.016</text>
<text x="605.20" y="257.80" font-size="11.5" fill="#000" font-weight="bold">k</text>
<rect x="743.8" y="258.40" width="15.45" height="5.8" fill="#e6e6e6" stroke="#111" stroke-width="1.1"/>
<line x1="737.70" y1="261.30" x2="743.80" y2="261.30" stroke="#111" stroke-width="1.2"/>
<text x="733.80" y="265.00" font-size="11" text-anchor="end">NTC</text>
<rect x="743.8" y="270.42" width="15.45" height="5.8" fill="#e6e6e6" stroke="#111" stroke-width="1.1"/>
<line x1="737.70" y1="273.32" x2="743.80" y2="273.32" stroke="#111" stroke-width="1.2"/>
<text x="733.80" y="277.02" font-size="11" text-anchor="end" font-style="italic">K. pneumoniae</text>
<rect x="743.8" y="282.44" width="15.45" height="5.8" fill="#e6e6e6" stroke="#111" stroke-width="1.1"/>
<line x1="737.70" y1="285.34" x2="743.80" y2="285.34" stroke="#111" stroke-width="1.2"/>
<text x="733.80" y="289.04" font-size="11" text-anchor="end" font-style="italic">S. areus</text>
<rect x="743.8" y="294.46" width="15.45" height="5.8" fill="#e6e6e6" stroke="#111" stroke-width="1.1"/>
<line x1="737.70" y1="297.36" x2="743.80" y2="297.36" stroke="#111" stroke-width="1.2"/>
<text x="733.80" y="301.06" font-size="11" text-anchor="end" font-style="italic">E. coli</text>
<rect x="743.8" y="306.48" width="14.59" height="5.8" fill="#e6e6e6" stroke="#111" stroke-width="1.1"/>
<line x1="737.70" y1="309.38" x2="743.80" y2="309.38" stroke="#111" stroke-width="1.2"/>
<text x="733.80" y="313.08" font-size="11" text-anchor="end" font-style="italic">M. smegmatis</text>
<rect x="743.8" y="318.50" width="14.59" height="5.8" fill="#e6e6e6" stroke="#111" stroke-width="1.1"/>
<line x1="737.70" y1="321.40" x2="743.80" y2="321.40" stroke="#111" stroke-width="1.2"/>
<text x="733.80" y="325.10" font-size="11" text-anchor="end" font-style="italic">M. septicum</text>
<rect x="743.8" y="330.52" width="14.59" height="5.8" fill="#e6e6e6" stroke="#111" stroke-width="1.1"/>
<line x1="737.70" y1="333.42" x2="743.80" y2="333.42" stroke="#111" stroke-width="1.2"/>
<text x="733.80" y="337.12" font-size="11" text-anchor="end" font-style="italic">M. chelonae</text>
<rect x="743.8" y="342.54" width="15.45" height="5.8" fill="#e6e6e6" stroke="#111" stroke-width="1.1"/>
<line x1="737.70" y1="345.44" x2="743.80" y2="345.44" stroke="#111" stroke-width="1.2"/>
<text x="733.80" y="349.14" font-size="11" text-anchor="end" font-style="italic">M. avium</text>
<rect x="743.8" y="354.56" width="15.45" height="5.8" fill="#e6e6e6" stroke="#111" stroke-width="1.1"/>
<line x1="737.70" y1="357.46" x2="743.80" y2="357.46" stroke="#111" stroke-width="1.2"/>
<text x="733.80" y="361.16" font-size="11" text-anchor="end" font-style="italic">M. scrofulaceum</text>
<rect x="743.8" y="366.58" width="15.45" height="5.8" fill="#e6e6e6" stroke="#111" stroke-width="1.1"/>
<line x1="737.70" y1="369.48" x2="743.80" y2="369.48" stroke="#111" stroke-width="1.2"/>
<text x="733.80" y="373.18" font-size="11" text-anchor="end" font-style="italic">M. abscessus</text>
<rect x="743.8" y="378.60" width="14.59" height="5.8" fill="#e6e6e6" stroke="#111" stroke-width="1.1"/>
<line x1="737.70" y1="381.50" x2="743.80" y2="381.50" stroke="#111" stroke-width="1.2"/>
<text x="733.80" y="385.20" font-size="11" text-anchor="end" font-style="italic">M. intracellulare</text>
<rect x="743.8" y="390.62" width="158.31" height="5.8" fill="#ddb5b0" stroke="#111" stroke-width="1.1"/>
<line x1="737.70" y1="393.52" x2="743.80" y2="393.52" stroke="#111" stroke-width="1.2"/>
<text x="733.80" y="397.22" font-size="11" text-anchor="end" font-style="italic">M. caprae</text>
<rect x="743.8" y="402.64" width="160.20" height="5.8" fill="#ddb5b0" stroke="#111" stroke-width="1.1"/>
<line x1="737.70" y1="405.54" x2="743.80" y2="405.54" stroke="#111" stroke-width="1.2"/>
<text x="733.80" y="409.24" font-size="11" text-anchor="end" font-style="italic">M. microti</text>
<rect x="743.8" y="414.66" width="164.83" height="5.8" fill="#ddb5b0" stroke="#111" stroke-width="1.1"/>
<line x1="737.70" y1="417.56" x2="743.80" y2="417.56" stroke="#111" stroke-width="1.2"/>
<text x="733.80" y="421.26" font-size="11" text-anchor="end" font-style="italic">M. bovis</text>
<rect x="743.8" y="426.68" width="165.35" height="5.8" fill="#ddb5b0" stroke="#111" stroke-width="1.1"/>
<line x1="737.70" y1="429.58" x2="743.80" y2="429.58" stroke="#111" stroke-width="1.2"/>
<text x="733.80" y="433.28" font-size="11" text-anchor="end" font-style="italic">M. tuberculosis</text>
<circle cx="757.08" cy="261.70" r="2.7" fill="#c2c2c2"/>
<circle cx="759.57" cy="260.80" r="2.7" fill="#c2c2c2"/>
<circle cx="761.79" cy="261.80" r="2.7" fill="#c2c2c2"/>
<circle cx="763.97" cy="261.00" r="2.7" fill="#c2c2c2"/>
<circle cx="757.70" cy="273.72" r="2.7" fill="#c2c2c2"/>
<circle cx="758.80" cy="272.82" r="2.7" fill="#c2c2c2"/>
<circle cx="761.22" cy="273.82" r="2.7" fill="#c2c2c2"/>
<circle cx="764.34" cy="273.02" r="2.7" fill="#c2c2c2"/>
<circle cx="757.11" cy="285.74" r="2.7" fill="#c2c2c2"/>
<circle cx="759.07" cy="284.84" r="2.7" fill="#c2c2c2"/>
<circle cx="762.79" cy="285.84" r="2.7" fill="#c2c2c2"/>
<circle cx="763.75" cy="285.04" r="2.7" fill="#c2c2c2"/>
<circle cx="758.04" cy="297.76" r="2.7" fill="#c2c2c2"/>
<circle cx="759.46" cy="296.86" r="2.7" fill="#c2c2c2"/>
<circle cx="762.22" cy="297.86" r="2.7" fill="#c2c2c2"/>
<circle cx="763.24" cy="297.06" r="2.7" fill="#c2c2c2"/>
<circle cx="756.72" cy="309.78" r="2.7" fill="#c2c2c2"/>
<circle cx="759.09" cy="308.88" r="2.7" fill="#c2c2c2"/>
<circle cx="761.04" cy="309.88" r="2.7" fill="#c2c2c2"/>
<circle cx="763.19" cy="309.08" r="2.7" fill="#c2c2c2"/>
<circle cx="756.77" cy="321.80" r="2.7" fill="#c2c2c2"/>
<circle cx="757.80" cy="320.90" r="2.7" fill="#c2c2c2"/>
<circle cx="761.41" cy="321.90" r="2.7" fill="#c2c2c2"/>
<circle cx="762.95" cy="321.10" r="2.7" fill="#c2c2c2"/>
<circle cx="756.18" cy="333.82" r="2.7" fill="#c2c2c2"/>
<circle cx="757.75" cy="332.92" r="2.7" fill="#c2c2c2"/>
<circle cx="761.58" cy="333.92" r="2.7" fill="#c2c2c2"/>
<circle cx="762.76" cy="333.12" r="2.7" fill="#c2c2c2"/>
<circle cx="756.85" cy="345.84" r="2.7" fill="#c2c2c2"/>
<circle cx="759.11" cy="344.94" r="2.7" fill="#c2c2c2"/>
<circle cx="761.34" cy="345.94" r="2.7" fill="#c2c2c2"/>
<circle cx="763.47" cy="345.14" r="2.7" fill="#c2c2c2"/>
<circle cx="756.33" cy="357.86" r="2.7" fill="#c2c2c2"/>
<circle cx="758.98" cy="356.96" r="2.7" fill="#c2c2c2"/>
<circle cx="760.91" cy="357.96" r="2.7" fill="#c2c2c2"/>
<circle cx="763.50" cy="357.16" r="2.7" fill="#c2c2c2"/>
<circle cx="757.11" cy="369.88" r="2.7" fill="#c2c2c2"/>
<circle cx="757.86" cy="368.98" r="2.7" fill="#c2c2c2"/>
<circle cx="760.42" cy="369.98" r="2.7" fill="#c2c2c2"/>
<circle cx="762.35" cy="369.18" r="2.7" fill="#c2c2c2"/>
<circle cx="757.24" cy="381.90" r="2.7" fill="#c2c2c2"/>
<circle cx="758.40" cy="381.00" r="2.7" fill="#c2c2c2"/>
<circle cx="761.20" cy="382.00" r="2.7" fill="#c2c2c2"/>
<circle cx="762.48" cy="381.20" r="2.7" fill="#c2c2c2"/>
<circle cx="898.80" cy="394.00" r="2.45" fill="#921208"/>
<circle cx="900.80" cy="392.88" r="2.45" fill="#921208"/>
<circle cx="903.00" cy="394.08" r="2.45" fill="#921208"/>
<circle cx="905.00" cy="393.36" r="2.45" fill="#921208"/>
<circle cx="900.00" cy="394.32" r="2.45" fill="#921208"/>
<circle cx="901.60" cy="406.02" r="2.45" fill="#921208"/>
<circle cx="903.60" cy="404.90" r="2.45" fill="#921208"/>
<circle cx="905.80" cy="406.10" r="2.45" fill="#921208"/>
<circle cx="907.80" cy="405.38" r="2.45" fill="#921208"/>
<circle cx="902.80" cy="406.34" r="2.45" fill="#921208"/>
<circle cx="906.40" cy="418.04" r="2.45" fill="#921208"/>
<circle cx="908.40" cy="416.92" r="2.45" fill="#921208"/>
<circle cx="910.60" cy="418.12" r="2.45" fill="#921208"/>
<circle cx="912.60" cy="417.40" r="2.45" fill="#921208"/>
<circle cx="907.60" cy="418.36" r="2.45" fill="#921208"/>
<circle cx="906.40" cy="430.06" r="2.45" fill="#921208"/>
<circle cx="908.40" cy="428.94" r="2.45" fill="#921208"/>
<circle cx="910.60" cy="430.14" r="2.45" fill="#921208"/>
<circle cx="912.60" cy="429.42" r="2.45" fill="#921208"/>
<circle cx="907.60" cy="430.38" r="2.45" fill="#921208"/>
<line x1="743.80" y1="254.00" x2="743.80" y2="442.50" stroke="#111" stroke-width="1.3"/>
<line x1="743.20" y1="435.60" x2="916.00" y2="435.60" stroke="#111" stroke-width="1.3"/>
<line x1="743.80" y1="435.60" x2="743.80" y2="442.50" stroke="#111" stroke-width="1.3"/>
<text x="743.80" y="455.20" font-size="10.7" text-anchor="middle">0.0</text>
<line x1="829.65" y1="435.60" x2="829.65" y2="442.50" stroke="#111" stroke-width="1.3"/>
<text x="829.65" y="455.20" font-size="10.7" text-anchor="middle">0.5</text>
<line x1="915.50" y1="435.60" x2="915.50" y2="442.50" stroke="#111" stroke-width="1.3"/>
<text x="915.50" y="455.20" font-size="10.7" text-anchor="middle">1.0</text>
<text x="829.60" y="472.90" font-size="10.7" text-anchor="middle" textLength="122.7" lengthAdjust="spacingAndGlyphs">Nomalized RFU at 60 min</text>
<line x1="767.30" y1="254.00" x2="767.30" y2="442.00" stroke="#111" stroke-width="1.2" stroke-dasharray="3.6 1.9"/>
<line x1="771.40" y1="257.00" x2="771.40" y2="380.40" stroke="#111" stroke-width="1.3"/>
<path d="M785,309.1 L927.9,309.1 L927.9,409.4 L923.0,409.4" fill="none" stroke="#111" stroke-width="1.3"/>
<line x1="919.90" y1="392.30" x2="919.90" y2="427.40" stroke="#111" stroke-width="1.3"/>
<text x="0.00" y="0.00" font-size="10.7" text-anchor="middle" textLength="38.5" lengthAdjust="spacingAndGlyphs" transform="translate(934.3,358.3) rotate(90)">p=0.008</text>
</svg>
</body></html>
